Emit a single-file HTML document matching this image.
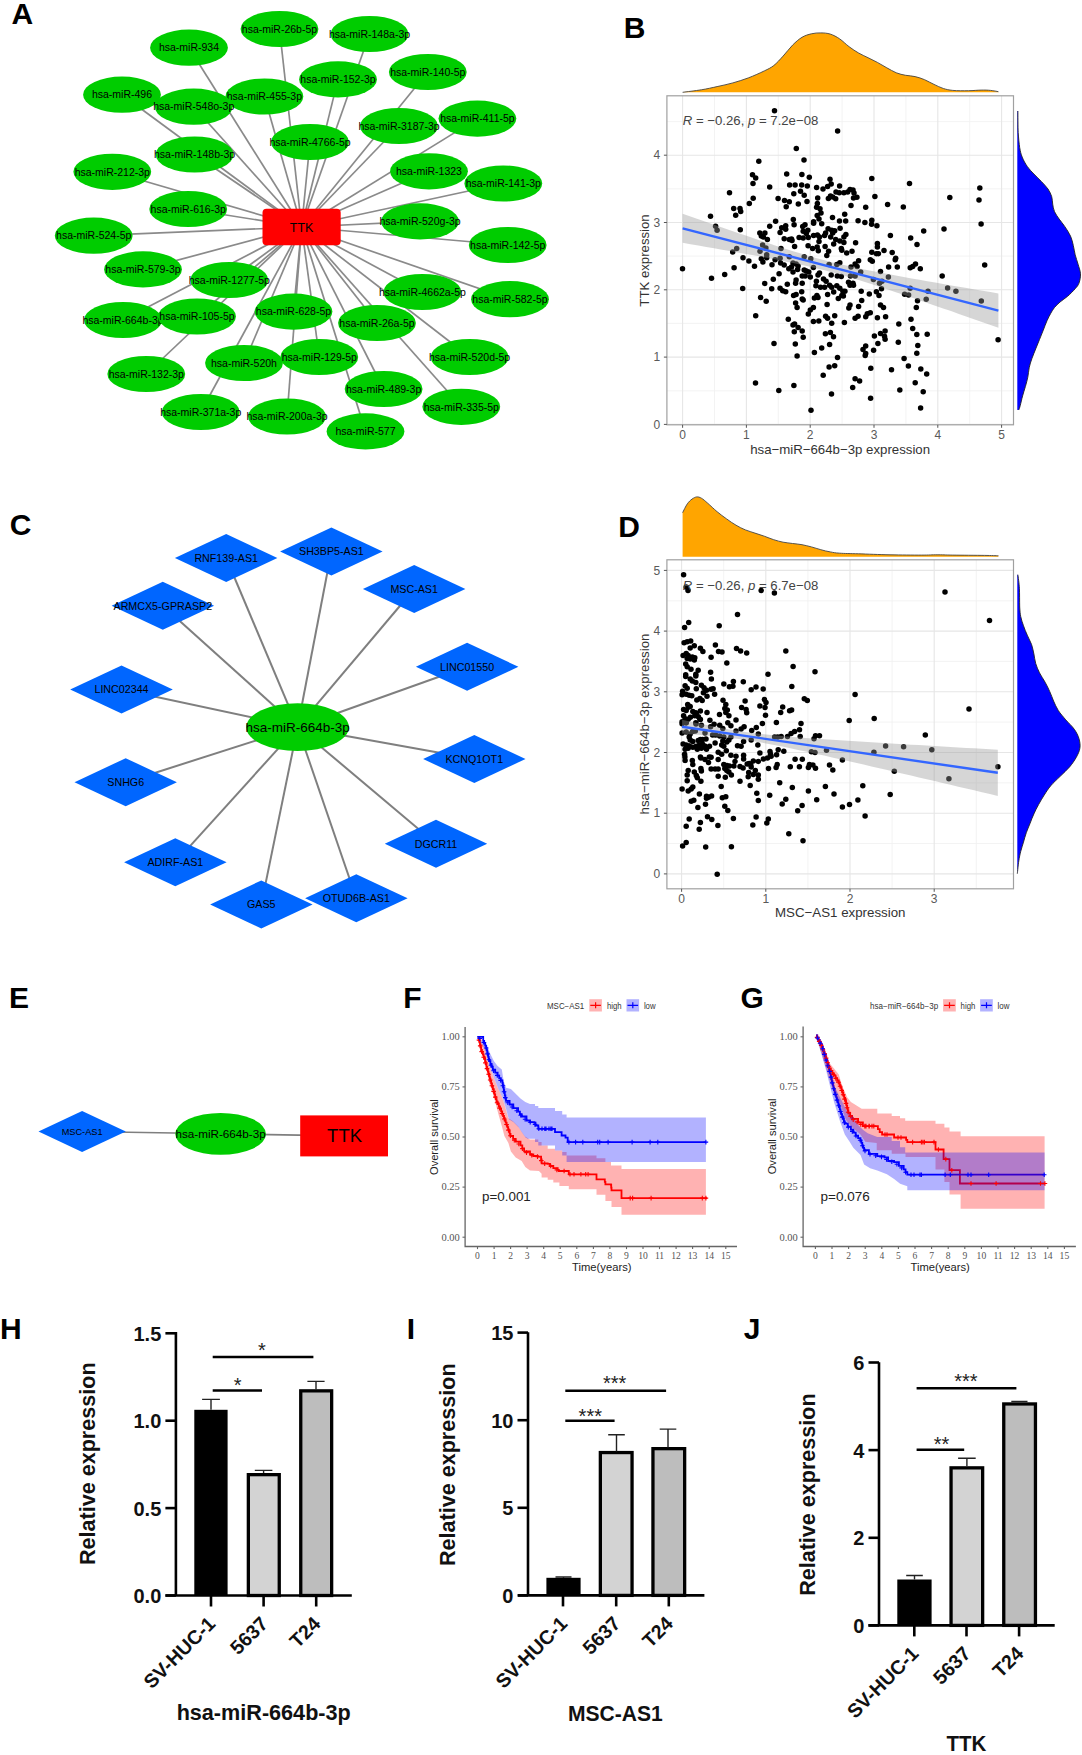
<!DOCTYPE html>
<html><head><meta charset="utf-8"><title>Figure</title>
<style>html,body{margin:0;padding:0;background:#fff;overflow:hidden;}svg{display:block;}svg{font-family:"Liberation Sans",sans-serif;}</style>
</head><body>
<svg width="1082" height="1755" viewBox="0 0 1082 1755">
<rect width="1082" height="1755" fill="#fff"/>
<text x="11.5" y="24.0" font-size="30" text-anchor="start" fill="#000" font-weight="bold" >A</text>
<text x="623.8" y="37.7" font-size="30" text-anchor="start" fill="#000" font-weight="bold" >B</text>
<text x="9.7" y="534.7" font-size="30" text-anchor="start" fill="#000" font-weight="bold" >C</text>
<text x="618.2" y="536.9" font-size="30" text-anchor="start" fill="#000" font-weight="bold" >D</text>
<text x="8.9" y="1008.0" font-size="30" text-anchor="start" fill="#000" font-weight="bold" >E</text>
<text x="403.2" y="1008.0" font-size="30" text-anchor="start" fill="#000" font-weight="bold" >F</text>
<text x="740.5" y="1007.7" font-size="30" text-anchor="start" fill="#000" font-weight="bold" >G</text>
<text x="-0.1" y="1338.7" font-size="30" text-anchor="start" fill="#000" font-weight="bold" >H</text>
<text x="406.7" y="1338.7" font-size="30" text-anchor="start" fill="#000" font-weight="bold" >I</text>
<text x="743.7" y="1338.7" font-size="30" text-anchor="start" fill="#000" font-weight="bold" >J</text>
<g stroke="#8a8a8a" stroke-width="1.7">
<line x1="301.6" y1="227.0" x2="189" y2="47.7"/>
<line x1="301.6" y1="227.0" x2="279.5" y2="29"/>
<line x1="301.6" y1="227.0" x2="369.5" y2="34"/>
<line x1="301.6" y1="227.0" x2="338" y2="79.4"/>
<line x1="301.6" y1="227.0" x2="427.8" y2="72"/>
<line x1="301.6" y1="227.0" x2="122" y2="94.7"/>
<line x1="301.6" y1="227.0" x2="264.4" y2="96.5"/>
<line x1="301.6" y1="227.0" x2="193.7" y2="106.7"/>
<line x1="301.6" y1="227.0" x2="310" y2="142"/>
<line x1="301.6" y1="227.0" x2="399" y2="126"/>
<line x1="301.6" y1="227.0" x2="477.4" y2="118.6"/>
<line x1="301.6" y1="227.0" x2="194.6" y2="154.5"/>
<line x1="301.6" y1="227.0" x2="112.3" y2="171.8"/>
<line x1="301.6" y1="227.0" x2="429" y2="171.3"/>
<line x1="301.6" y1="227.0" x2="503.3" y2="183.5"/>
<line x1="301.6" y1="227.0" x2="188.2" y2="209"/>
<line x1="301.6" y1="227.0" x2="420" y2="221.4"/>
<line x1="301.6" y1="227.0" x2="93.7" y2="235.7"/>
<line x1="301.6" y1="227.0" x2="507.7" y2="245"/>
<line x1="301.6" y1="227.0" x2="143" y2="269.4"/>
<line x1="301.6" y1="227.0" x2="229.3" y2="280"/>
<line x1="301.6" y1="227.0" x2="422.4" y2="292"/>
<line x1="301.6" y1="227.0" x2="510" y2="299.2"/>
<line x1="301.6" y1="227.0" x2="123" y2="320"/>
<line x1="301.6" y1="227.0" x2="197" y2="316.5"/>
<line x1="301.6" y1="227.0" x2="293.5" y2="311.6"/>
<line x1="301.6" y1="227.0" x2="377" y2="323"/>
<line x1="301.6" y1="227.0" x2="146.3" y2="374"/>
<line x1="301.6" y1="227.0" x2="244" y2="363"/>
<line x1="301.6" y1="227.0" x2="319.3" y2="357"/>
<line x1="301.6" y1="227.0" x2="469.6" y2="357"/>
<line x1="301.6" y1="227.0" x2="383.6" y2="389"/>
<line x1="301.6" y1="227.0" x2="200.7" y2="412"/>
<line x1="301.6" y1="227.0" x2="287" y2="416.5"/>
<line x1="301.6" y1="227.0" x2="461.3" y2="406.8"/>
<line x1="301.6" y1="227.0" x2="365.5" y2="431.4"/>
</g>
<rect x="262.5" y="208.8" width="78.2" height="36.4" rx="4" fill="#ff0000"/>
<text x="301.6" y="231.5" font-size="12.5" text-anchor="middle" fill="#000" >TTK</text>
<ellipse cx="189" cy="47.7" rx="38.9" ry="18.1" fill="#00cc00"/>
<text x="189.0" y="51.4" font-size="10.5" text-anchor="middle" fill="#000" >hsa-miR-934</text>
<ellipse cx="279.5" cy="29" rx="38.9" ry="18.1" fill="#00cc00"/>
<text x="279.5" y="32.7" font-size="10.5" text-anchor="middle" fill="#000" >hsa-miR-26b-5p</text>
<ellipse cx="369.5" cy="34" rx="38.9" ry="18.1" fill="#00cc00"/>
<text x="369.5" y="37.7" font-size="10.5" text-anchor="middle" fill="#000" >hsa-miR-148a-3p</text>
<ellipse cx="338" cy="79.4" rx="38.9" ry="18.1" fill="#00cc00"/>
<text x="338.0" y="83.1" font-size="10.5" text-anchor="middle" fill="#000" >hsa-miR-152-3p</text>
<ellipse cx="427.8" cy="72" rx="38.9" ry="18.1" fill="#00cc00"/>
<text x="427.8" y="75.7" font-size="10.5" text-anchor="middle" fill="#000" >hsa-miR-140-5p</text>
<ellipse cx="122" cy="94.7" rx="38.9" ry="18.1" fill="#00cc00"/>
<text x="122.0" y="98.4" font-size="10.5" text-anchor="middle" fill="#000" >hsa-miR-496</text>
<ellipse cx="264.4" cy="96.5" rx="38.9" ry="18.1" fill="#00cc00"/>
<text x="264.4" y="100.2" font-size="10.5" text-anchor="middle" fill="#000" >hsa-miR-455-3p</text>
<ellipse cx="193.7" cy="106.7" rx="38.9" ry="18.1" fill="#00cc00"/>
<text x="193.7" y="110.4" font-size="10.5" text-anchor="middle" fill="#000" >hsa-miR-548o-3p</text>
<ellipse cx="310" cy="142" rx="38.9" ry="18.1" fill="#00cc00"/>
<text x="310.0" y="145.7" font-size="10.5" text-anchor="middle" fill="#000" >hsa-miR-4766-5p</text>
<ellipse cx="399" cy="126" rx="38.9" ry="18.1" fill="#00cc00"/>
<text x="399.0" y="129.7" font-size="10.5" text-anchor="middle" fill="#000" >hsa-miR-3187-3p</text>
<ellipse cx="477.4" cy="118.6" rx="38.9" ry="18.1" fill="#00cc00"/>
<text x="477.4" y="122.3" font-size="10.5" text-anchor="middle" fill="#000" >hsa-miR-411-5p</text>
<ellipse cx="194.6" cy="154.5" rx="38.9" ry="18.1" fill="#00cc00"/>
<text x="194.6" y="158.2" font-size="10.5" text-anchor="middle" fill="#000" >hsa-miR-148b-3p</text>
<ellipse cx="112.3" cy="171.8" rx="38.9" ry="18.1" fill="#00cc00"/>
<text x="112.3" y="175.5" font-size="10.5" text-anchor="middle" fill="#000" >hsa-miR-212-3p</text>
<ellipse cx="429" cy="171.3" rx="38.9" ry="18.1" fill="#00cc00"/>
<text x="429.0" y="175.0" font-size="10.5" text-anchor="middle" fill="#000" >hsa-miR-1323</text>
<ellipse cx="503.3" cy="183.5" rx="38.9" ry="18.1" fill="#00cc00"/>
<text x="503.3" y="187.2" font-size="10.5" text-anchor="middle" fill="#000" >hsa-miR-141-3p</text>
<ellipse cx="188.2" cy="209" rx="38.9" ry="18.1" fill="#00cc00"/>
<text x="188.2" y="212.7" font-size="10.5" text-anchor="middle" fill="#000" >hsa-miR-616-3p</text>
<ellipse cx="420" cy="221.4" rx="38.9" ry="18.1" fill="#00cc00"/>
<text x="420.0" y="225.1" font-size="10.5" text-anchor="middle" fill="#000" >hsa-miR-520g-3p</text>
<ellipse cx="93.7" cy="235.7" rx="38.9" ry="18.1" fill="#00cc00"/>
<text x="93.7" y="239.4" font-size="10.5" text-anchor="middle" fill="#000" >hsa-miR-524-5p</text>
<ellipse cx="507.7" cy="245" rx="38.9" ry="18.1" fill="#00cc00"/>
<text x="507.7" y="248.7" font-size="10.5" text-anchor="middle" fill="#000" >hsa-miR-142-5p</text>
<ellipse cx="143" cy="269.4" rx="38.9" ry="18.1" fill="#00cc00"/>
<text x="143.0" y="273.1" font-size="10.5" text-anchor="middle" fill="#000" >hsa-miR-579-3p</text>
<ellipse cx="229.3" cy="280" rx="38.9" ry="18.1" fill="#00cc00"/>
<text x="229.3" y="283.7" font-size="10.5" text-anchor="middle" fill="#000" >hsa-miR-1277-5p</text>
<ellipse cx="422.4" cy="292" rx="38.9" ry="18.1" fill="#00cc00"/>
<text x="422.4" y="295.7" font-size="10.5" text-anchor="middle" fill="#000" >hsa-miR-4662a-5p</text>
<ellipse cx="510" cy="299.2" rx="38.9" ry="18.1" fill="#00cc00"/>
<text x="510.0" y="302.9" font-size="10.5" text-anchor="middle" fill="#000" >hsa-miR-582-5p</text>
<ellipse cx="123" cy="320" rx="38.9" ry="18.1" fill="#00cc00"/>
<text x="123.0" y="323.7" font-size="10.5" text-anchor="middle" fill="#000" >hsa-miR-664b-3p</text>
<ellipse cx="197" cy="316.5" rx="38.9" ry="18.1" fill="#00cc00"/>
<text x="197.0" y="320.2" font-size="10.5" text-anchor="middle" fill="#000" >hsa-miR-105-5p</text>
<ellipse cx="293.5" cy="311.6" rx="38.9" ry="18.1" fill="#00cc00"/>
<text x="293.5" y="315.3" font-size="10.5" text-anchor="middle" fill="#000" >hsa-miR-628-5p</text>
<ellipse cx="377" cy="323" rx="38.9" ry="18.1" fill="#00cc00"/>
<text x="377.0" y="326.7" font-size="10.5" text-anchor="middle" fill="#000" >hsa-miR-26a-5p</text>
<ellipse cx="146.3" cy="374" rx="38.9" ry="18.1" fill="#00cc00"/>
<text x="146.3" y="377.7" font-size="10.5" text-anchor="middle" fill="#000" >hsa-miR-132-3p</text>
<ellipse cx="244" cy="363" rx="38.9" ry="18.1" fill="#00cc00"/>
<text x="244.0" y="366.7" font-size="10.5" text-anchor="middle" fill="#000" >hsa-miR-520h</text>
<ellipse cx="319.3" cy="357" rx="38.9" ry="18.1" fill="#00cc00"/>
<text x="319.3" y="360.7" font-size="10.5" text-anchor="middle" fill="#000" >hsa-miR-129-5p</text>
<ellipse cx="469.6" cy="357" rx="38.9" ry="18.1" fill="#00cc00"/>
<text x="469.6" y="360.7" font-size="10.5" text-anchor="middle" fill="#000" >hsa-miR-520d-5p</text>
<ellipse cx="383.6" cy="389" rx="38.9" ry="18.1" fill="#00cc00"/>
<text x="383.6" y="392.7" font-size="10.5" text-anchor="middle" fill="#000" >hsa-miR-489-3p</text>
<ellipse cx="200.7" cy="412" rx="38.9" ry="18.1" fill="#00cc00"/>
<text x="200.7" y="415.7" font-size="10.5" text-anchor="middle" fill="#000" >hsa-miR-371a-3p</text>
<ellipse cx="287" cy="416.5" rx="38.9" ry="18.1" fill="#00cc00"/>
<text x="287.0" y="420.2" font-size="10.5" text-anchor="middle" fill="#000" >hsa-miR-200a-3p</text>
<ellipse cx="461.3" cy="406.8" rx="38.9" ry="18.1" fill="#00cc00"/>
<text x="461.3" y="410.5" font-size="10.5" text-anchor="middle" fill="#000" >hsa-miR-335-5p</text>
<ellipse cx="365.5" cy="431.4" rx="38.9" ry="18.1" fill="#00cc00"/>
<text x="365.5" y="435.1" font-size="10.5" text-anchor="middle" fill="#000" >hsa-miR-577</text>
<g stroke="#7f7f7f" stroke-width="2">
<line x1="297.6" y1="727.2" x2="226.2" y2="558"/>
<line x1="297.6" y1="727.2" x2="331.4" y2="551.5"/>
<line x1="297.6" y1="727.2" x2="414.2" y2="589"/>
<line x1="297.6" y1="727.2" x2="162.8" y2="605.7"/>
<line x1="297.6" y1="727.2" x2="467.1" y2="666.8"/>
<line x1="297.6" y1="727.2" x2="121.5" y2="689.4"/>
<line x1="297.6" y1="727.2" x2="474.3" y2="759"/>
<line x1="297.6" y1="727.2" x2="125.7" y2="782.2"/>
<line x1="297.6" y1="727.2" x2="436" y2="843.7"/>
<line x1="297.6" y1="727.2" x2="175.3" y2="862.3"/>
<line x1="297.6" y1="727.2" x2="261.3" y2="904.4"/>
<line x1="297.6" y1="727.2" x2="356.3" y2="898.3"/>
</g>
<polygon points="174.9,558 226.2,534 277.4,558 226.2,582" fill="#0066ff"/>
<text x="226.2" y="561.8" font-size="10.7" text-anchor="middle" fill="#000" >RNF139-AS1</text>
<polygon points="280.1,551.5 331.4,527.5 382.6,551.5 331.4,575.5" fill="#0066ff"/>
<text x="331.4" y="555.3" font-size="10.7" text-anchor="middle" fill="#000" >SH3BP5-AS1</text>
<polygon points="362.9,589 414.2,565 465.4,589 414.2,613" fill="#0066ff"/>
<text x="414.2" y="592.8" font-size="10.7" text-anchor="middle" fill="#000" >MSC-AS1</text>
<polygon points="111.6,605.7 162.8,581.7 214.1,605.7 162.8,629.7" fill="#0066ff"/>
<text x="162.8" y="609.5" font-size="10.7" text-anchor="middle" fill="#000" >ARMCX5-GPRASP2</text>
<polygon points="415.9,666.8 467.1,642.8 518.4,666.8 467.1,690.8" fill="#0066ff"/>
<text x="467.1" y="670.6" font-size="10.7" text-anchor="middle" fill="#000" >LINC01550</text>
<polygon points="70.2,689.4 121.5,665.4 172.8,689.4 121.5,713.4" fill="#0066ff"/>
<text x="121.5" y="693.2" font-size="10.7" text-anchor="middle" fill="#000" >LINC02344</text>
<polygon points="423.1,759 474.3,735 525.5,759 474.3,783" fill="#0066ff"/>
<text x="474.3" y="762.8" font-size="10.7" text-anchor="middle" fill="#000" >KCNQ1OT1</text>
<polygon points="74.5,782.2 125.7,758.2 176.9,782.2 125.7,806.2" fill="#0066ff"/>
<text x="125.7" y="786.0" font-size="10.7" text-anchor="middle" fill="#000" >SNHG6</text>
<polygon points="384.8,843.7 436,819.7 487.2,843.7 436,867.7" fill="#0066ff"/>
<text x="436.0" y="847.5" font-size="10.7" text-anchor="middle" fill="#000" >DGCR11</text>
<polygon points="124.1,862.3 175.3,838.3 226.6,862.3 175.3,886.3" fill="#0066ff"/>
<text x="175.3" y="866.1" font-size="10.7" text-anchor="middle" fill="#000" >ADIRF-AS1</text>
<polygon points="210.1,904.4 261.3,880.4 312.6,904.4 261.3,928.4" fill="#0066ff"/>
<text x="261.3" y="908.2" font-size="10.7" text-anchor="middle" fill="#000" >GAS5</text>
<polygon points="305.1,898.3 356.3,874.3 407.6,898.3 356.3,922.3" fill="#0066ff"/>
<text x="356.3" y="902.1" font-size="10.7" text-anchor="middle" fill="#000" >OTUD6B-AS1</text>
<ellipse cx="297.6" cy="727.2" rx="51.3" ry="23.9" fill="#00cc00"/>
<text x="297.6" y="731.8" font-size="13.5" text-anchor="middle" fill="#000" >hsa-miR-664b-3p</text>
<polyline points="82.1,1131.5 220.6,1133.8 344.1,1135.9" fill="none" stroke="#7f7f7f" stroke-width="1.6"/>
<polygon points="38.5,1131.5 82.1,1111 125.8,1131.5 82.1,1152" fill="#0066ff"/>
<text x="82.1" y="1134.6" font-size="9.2" text-anchor="middle" fill="#000" >MSC-AS1</text>
<ellipse cx="220.6" cy="1133.9" rx="45.3" ry="20.9" fill="#00cc00"/>
<text x="220.6" y="1137.9" font-size="11.7" text-anchor="middle" fill="#000" >hsa-miR-664b-3p</text>
<rect x="300.2" y="1115.4" width="87.8" height="41" fill="#ff0000"/>
<text x="344.6" y="1141.7" font-size="18.5" text-anchor="middle" fill="#000" >TTK</text>
<rect x="666.9" y="95.8" width="346.6" height="329.0" fill="#fff"/>
<line x1="714.5" y1="95.8" x2="714.5" y2="424.8" stroke="#f0f0f0" stroke-width="0.8"/><line x1="778.3" y1="95.8" x2="778.3" y2="424.8" stroke="#f0f0f0" stroke-width="0.8"/><line x1="842.1" y1="95.8" x2="842.1" y2="424.8" stroke="#f0f0f0" stroke-width="0.8"/><line x1="905.9" y1="95.8" x2="905.9" y2="424.8" stroke="#f0f0f0" stroke-width="0.8"/><line x1="969.7" y1="95.8" x2="969.7" y2="424.8" stroke="#f0f0f0" stroke-width="0.8"/><line x1="666.9" y1="390.8" x2="1013.5" y2="390.8" stroke="#f0f0f0" stroke-width="0.8"/><line x1="666.9" y1="323.4" x2="1013.5" y2="323.4" stroke="#f0f0f0" stroke-width="0.8"/><line x1="666.9" y1="256.1" x2="1013.5" y2="256.1" stroke="#f0f0f0" stroke-width="0.8"/><line x1="666.9" y1="188.8" x2="1013.5" y2="188.8" stroke="#f0f0f0" stroke-width="0.8"/><line x1="666.9" y1="121.6" x2="1013.5" y2="121.6" stroke="#f0f0f0" stroke-width="0.8"/><line x1="682.6" y1="95.8" x2="682.6" y2="424.8" stroke="#e6e6e6" stroke-width="1.1"/><line x1="746.4" y1="95.8" x2="746.4" y2="424.8" stroke="#e6e6e6" stroke-width="1.1"/><line x1="810.2" y1="95.8" x2="810.2" y2="424.8" stroke="#e6e6e6" stroke-width="1.1"/><line x1="874.0" y1="95.8" x2="874.0" y2="424.8" stroke="#e6e6e6" stroke-width="1.1"/><line x1="937.8" y1="95.8" x2="937.8" y2="424.8" stroke="#e6e6e6" stroke-width="1.1"/><line x1="1001.6" y1="95.8" x2="1001.6" y2="424.8" stroke="#e6e6e6" stroke-width="1.1"/><line x1="666.9" y1="424.4" x2="1013.5" y2="424.4" stroke="#e6e6e6" stroke-width="1.1"/><line x1="666.9" y1="357.1" x2="1013.5" y2="357.1" stroke="#e6e6e6" stroke-width="1.1"/><line x1="666.9" y1="289.8" x2="1013.5" y2="289.8" stroke="#e6e6e6" stroke-width="1.1"/><line x1="666.9" y1="222.5" x2="1013.5" y2="222.5" stroke="#e6e6e6" stroke-width="1.1"/><line x1="666.9" y1="155.2" x2="1013.5" y2="155.2" stroke="#e6e6e6" stroke-width="1.1"/>
<g fill="#000"><circle cx="774.5" cy="110.7" r="2.75"/><circle cx="758.8" cy="161.2" r="2.75"/><circle cx="752.5" cy="174.7" r="2.75"/><circle cx="755.7" cy="178.1" r="2.75"/><circle cx="753.0" cy="183.6" r="2.75"/><circle cx="786.7" cy="173.9" r="2.75"/><circle cx="769.7" cy="186.9" r="2.75"/><circle cx="789.6" cy="184.9" r="2.75"/><circle cx="729.5" cy="192.8" r="2.75"/><circle cx="753.2" cy="198.3" r="2.75"/><circle cx="749.3" cy="203.5" r="2.75"/><circle cx="778.1" cy="198.6" r="2.75"/><circle cx="784.5" cy="200.6" r="2.75"/><circle cx="789.3" cy="201.7" r="2.75"/><circle cx="786.2" cy="206.7" r="2.75"/><circle cx="733.7" cy="208.6" r="2.75"/><circle cx="740.0" cy="208.6" r="2.75"/><circle cx="837.6" cy="131.0" r="2.75"/><circle cx="796.3" cy="148.5" r="2.75"/><circle cx="804.0" cy="160.0" r="2.75"/><circle cx="801.9" cy="174.4" r="2.75"/><circle cx="809.3" cy="177.3" r="2.75"/><circle cx="830.0" cy="179.3" r="2.75"/><circle cx="831.2" cy="183.9" r="2.75"/><circle cx="827.6" cy="186.6" r="2.75"/><circle cx="823.0" cy="189.0" r="2.75"/><circle cx="816.6" cy="187.6" r="2.75"/><circle cx="839.6" cy="186.1" r="2.75"/><circle cx="871.8" cy="178.5" r="2.75"/><circle cx="795.1" cy="184.9" r="2.75"/><circle cx="801.7" cy="184.9" r="2.75"/><circle cx="807.3" cy="186.1" r="2.75"/><circle cx="793.8" cy="193.7" r="2.75"/><circle cx="800.5" cy="191.2" r="2.75"/><circle cx="804.2" cy="195.3" r="2.75"/><circle cx="798.3" cy="203.9" r="2.75"/><circle cx="807.0" cy="201.4" r="2.75"/><circle cx="817.7" cy="197.9" r="2.75"/><circle cx="817.4" cy="203.5" r="2.75"/><circle cx="816.6" cy="207.3" r="2.75"/><circle cx="820.0" cy="208.8" r="2.75"/><circle cx="830.5" cy="196.1" r="2.75"/><circle cx="828.4" cy="198.6" r="2.75"/><circle cx="835.7" cy="198.8" r="2.75"/><circle cx="832.7" cy="197.1" r="2.75"/><circle cx="836.0" cy="192.0" r="2.75"/><circle cx="839.3" cy="192.7" r="2.75"/><circle cx="843.9" cy="192.7" r="2.75"/><circle cx="847.7" cy="192.0" r="2.75"/><circle cx="850.0" cy="189.5" r="2.75"/><circle cx="853.0" cy="190.0" r="2.75"/><circle cx="854.0" cy="193.0" r="2.75"/><circle cx="853.5" cy="198.1" r="2.75"/><circle cx="856.9" cy="197.3" r="2.75"/><circle cx="851.0" cy="205.5" r="2.75"/><circle cx="865.7" cy="207.3" r="2.75"/><circle cx="874.9" cy="196.4" r="2.75"/><circle cx="887.6" cy="204.4" r="2.75"/><circle cx="909.5" cy="183.4" r="2.75"/><circle cx="949.8" cy="197.6" r="2.75"/><circle cx="979.8" cy="187.9" r="2.75"/><circle cx="979.0" cy="200.1" r="2.75"/><circle cx="903.3" cy="207.0" r="2.75"/><circle cx="710.5" cy="216.3" r="2.75"/><circle cx="735.7" cy="215.3" r="2.75"/><circle cx="740.7" cy="211.5" r="2.75"/><circle cx="715.6" cy="226.3" r="2.75"/><circle cx="717.1" cy="230.3" r="2.75"/><circle cx="740.3" cy="229.8" r="2.75"/><circle cx="775.6" cy="221.2" r="2.75"/><circle cx="769.7" cy="226.3" r="2.75"/><circle cx="759.8" cy="232.9" r="2.75"/><circle cx="764.9" cy="232.9" r="2.75"/><circle cx="761.3" cy="235.9" r="2.75"/><circle cx="763.4" cy="236.9" r="2.75"/><circle cx="767.4" cy="239.5" r="2.75"/><circle cx="781.7" cy="227.8" r="2.75"/><circle cx="785.7" cy="225.8" r="2.75"/><circle cx="785.7" cy="229.3" r="2.75"/><circle cx="780.1" cy="232.4" r="2.75"/><circle cx="784.2" cy="238.8" r="2.75"/><circle cx="789.3" cy="239.5" r="2.75"/><circle cx="762.6" cy="245.1" r="2.75"/><circle cx="765.9" cy="248.1" r="2.75"/><circle cx="760.0" cy="251.2" r="2.75"/><circle cx="781.0" cy="248.6" r="2.75"/><circle cx="736.7" cy="248.6" r="2.75"/><circle cx="732.7" cy="252.0" r="2.75"/><circle cx="766.7" cy="254.7" r="2.75"/><circle cx="766.7" cy="257.8" r="2.75"/><circle cx="761.3" cy="258.8" r="2.75"/><circle cx="762.9" cy="262.1" r="2.75"/><circle cx="743.0" cy="257.8" r="2.75"/><circle cx="748.9" cy="261.0" r="2.75"/><circle cx="754.5" cy="266.2" r="2.75"/><circle cx="775.1" cy="259.8" r="2.75"/><circle cx="780.1" cy="258.3" r="2.75"/><circle cx="780.6" cy="262.9" r="2.75"/><circle cx="784.2" cy="264.9" r="2.75"/><circle cx="772.0" cy="264.7" r="2.75"/><circle cx="788.8" cy="268.8" r="2.75"/><circle cx="789.3" cy="256.8" r="2.75"/><circle cx="682.5" cy="268.8" r="2.75"/><circle cx="734.1" cy="267.7" r="2.75"/><circle cx="724.7" cy="274.6" r="2.75"/><circle cx="711.5" cy="278.3" r="2.75"/><circle cx="779.1" cy="273.8" r="2.75"/><circle cx="773.3" cy="279.3" r="2.75"/><circle cx="764.7" cy="283.4" r="2.75"/><circle cx="787.3" cy="284.2" r="2.75"/><circle cx="742.7" cy="288.5" r="2.75"/><circle cx="771.7" cy="288.8" r="2.75"/><circle cx="780.1" cy="288.3" r="2.75"/><circle cx="782.7" cy="290.8" r="2.75"/><circle cx="785.7" cy="291.8" r="2.75"/><circle cx="760.6" cy="297.6" r="2.75"/><circle cx="766.2" cy="301.2" r="2.75"/><circle cx="755.7" cy="315.7" r="2.75"/><circle cx="788.3" cy="319.3" r="2.75"/><circle cx="821.0" cy="213.0" r="2.75"/><circle cx="817.2" cy="215.6" r="2.75"/><circle cx="819.0" cy="219.1" r="2.75"/><circle cx="821.7" cy="223.7" r="2.75"/><circle cx="813.6" cy="221.7" r="2.75"/><circle cx="813.6" cy="223.2" r="2.75"/><circle cx="832.5" cy="217.4" r="2.75"/><circle cx="844.7" cy="214.3" r="2.75"/><circle cx="839.5" cy="221.0" r="2.75"/><circle cx="845.7" cy="221.0" r="2.75"/><circle cx="858.1" cy="220.7" r="2.75"/><circle cx="864.9" cy="222.4" r="2.75"/><circle cx="871.8" cy="220.2" r="2.75"/><circle cx="871.6" cy="224.2" r="2.75"/><circle cx="876.9" cy="225.8" r="2.75"/><circle cx="793.3" cy="219.4" r="2.75"/><circle cx="794.1" cy="224.7" r="2.75"/><circle cx="805.0" cy="224.7" r="2.75"/><circle cx="802.7" cy="226.5" r="2.75"/><circle cx="807.8" cy="230.3" r="2.75"/><circle cx="803.2" cy="231.3" r="2.75"/><circle cx="806.3" cy="233.4" r="2.75"/><circle cx="808.3" cy="237.4" r="2.75"/><circle cx="799.1" cy="237.4" r="2.75"/><circle cx="803.2" cy="238.0" r="2.75"/><circle cx="791.5" cy="239.0" r="2.75"/><circle cx="792.0" cy="240.5" r="2.75"/><circle cx="813.6" cy="235.4" r="2.75"/><circle cx="817.4" cy="234.9" r="2.75"/><circle cx="819.5" cy="236.9" r="2.75"/><circle cx="819.0" cy="241.5" r="2.75"/><circle cx="828.1" cy="228.8" r="2.75"/><circle cx="831.7" cy="230.3" r="2.75"/><circle cx="834.7" cy="230.8" r="2.75"/><circle cx="825.6" cy="232.9" r="2.75"/><circle cx="824.6" cy="235.4" r="2.75"/><circle cx="830.7" cy="236.9" r="2.75"/><circle cx="832.7" cy="232.9" r="2.75"/><circle cx="840.1" cy="228.3" r="2.75"/><circle cx="845.9" cy="234.4" r="2.75"/><circle cx="843.9" cy="236.9" r="2.75"/><circle cx="835.7" cy="239.5" r="2.75"/><circle cx="839.8" cy="241.0" r="2.75"/><circle cx="843.9" cy="242.5" r="2.75"/><circle cx="833.7" cy="244.1" r="2.75"/><circle cx="855.6" cy="242.7" r="2.75"/><circle cx="890.4" cy="235.4" r="2.75"/><circle cx="794.6" cy="246.6" r="2.75"/><circle cx="808.1" cy="245.8" r="2.75"/><circle cx="812.6" cy="248.6" r="2.75"/><circle cx="817.2" cy="247.1" r="2.75"/><circle cx="818.3" cy="250.7" r="2.75"/><circle cx="825.1" cy="246.4" r="2.75"/><circle cx="828.6" cy="251.2" r="2.75"/><circle cx="826.8" cy="255.5" r="2.75"/><circle cx="841.3" cy="248.6" r="2.75"/><circle cx="841.8" cy="250.2" r="2.75"/><circle cx="846.7" cy="253.0" r="2.75"/><circle cx="852.0" cy="251.2" r="2.75"/><circle cx="877.4" cy="243.5" r="2.75"/><circle cx="877.4" cy="247.1" r="2.75"/><circle cx="871.8" cy="252.2" r="2.75"/><circle cx="876.4" cy="253.7" r="2.75"/><circle cx="878.4" cy="253.7" r="2.75"/><circle cx="884.0" cy="250.5" r="2.75"/><circle cx="892.2" cy="252.5" r="2.75"/><circle cx="895.7" cy="258.3" r="2.75"/><circle cx="895.2" cy="259.8" r="2.75"/><circle cx="870.3" cy="259.8" r="2.75"/><circle cx="872.3" cy="261.3" r="2.75"/><circle cx="858.6" cy="260.8" r="2.75"/><circle cx="855.1" cy="263.9" r="2.75"/><circle cx="851.0" cy="266.9" r="2.75"/><circle cx="857.1" cy="266.4" r="2.75"/><circle cx="839.8" cy="262.7" r="2.75"/><circle cx="836.8" cy="264.4" r="2.75"/><circle cx="829.1" cy="264.4" r="2.75"/><circle cx="804.2" cy="256.8" r="2.75"/><circle cx="810.8" cy="258.8" r="2.75"/><circle cx="813.4" cy="267.4" r="2.75"/><circle cx="793.0" cy="262.9" r="2.75"/><circle cx="796.1" cy="263.9" r="2.75"/><circle cx="798.1" cy="265.9" r="2.75"/><circle cx="791.5" cy="266.9" r="2.75"/><circle cx="797.6" cy="269.5" r="2.75"/><circle cx="793.0" cy="272.0" r="2.75"/><circle cx="804.2" cy="270.0" r="2.75"/><circle cx="806.3" cy="271.0" r="2.75"/><circle cx="808.8" cy="272.0" r="2.75"/><circle cx="802.2" cy="276.1" r="2.75"/><circle cx="805.2" cy="276.1" r="2.75"/><circle cx="810.3" cy="277.1" r="2.75"/><circle cx="819.5" cy="273.0" r="2.75"/><circle cx="818.0" cy="275.1" r="2.75"/><circle cx="831.2" cy="275.1" r="2.75"/><circle cx="837.3" cy="276.1" r="2.75"/><circle cx="841.3" cy="276.6" r="2.75"/><circle cx="850.5" cy="276.1" r="2.75"/><circle cx="855.1" cy="276.1" r="2.75"/><circle cx="860.7" cy="272.0" r="2.75"/><circle cx="880.5" cy="271.5" r="2.75"/><circle cx="888.6" cy="267.1" r="2.75"/><circle cx="897.3" cy="266.9" r="2.75"/><circle cx="888.4" cy="277.1" r="2.75"/><circle cx="873.4" cy="279.6" r="2.75"/><circle cx="879.5" cy="283.2" r="2.75"/><circle cx="882.0" cy="281.2" r="2.75"/><circle cx="796.1" cy="280.1" r="2.75"/><circle cx="795.6" cy="283.2" r="2.75"/><circle cx="802.2" cy="283.2" r="2.75"/><circle cx="816.4" cy="281.2" r="2.75"/><circle cx="815.9" cy="285.7" r="2.75"/><circle cx="823.5" cy="279.1" r="2.75"/><circle cx="826.1" cy="281.2" r="2.75"/><circle cx="820.5" cy="287.3" r="2.75"/><circle cx="824.6" cy="287.3" r="2.75"/><circle cx="829.6" cy="285.2" r="2.75"/><circle cx="831.7" cy="287.3" r="2.75"/><circle cx="836.8" cy="285.7" r="2.75"/><circle cx="839.8" cy="288.3" r="2.75"/><circle cx="842.9" cy="291.3" r="2.75"/><circle cx="844.9" cy="291.3" r="2.75"/><circle cx="841.8" cy="295.4" r="2.75"/><circle cx="848.5" cy="282.2" r="2.75"/><circle cx="850.0" cy="285.2" r="2.75"/><circle cx="853.5" cy="285.2" r="2.75"/><circle cx="853.0" cy="283.2" r="2.75"/><circle cx="861.2" cy="291.3" r="2.75"/><circle cx="869.3" cy="293.9" r="2.75"/><circle cx="876.4" cy="291.8" r="2.75"/><circle cx="879.0" cy="295.4" r="2.75"/><circle cx="881.5" cy="288.8" r="2.75"/><circle cx="801.7" cy="291.8" r="2.75"/><circle cx="793.6" cy="295.4" r="2.75"/><circle cx="796.1" cy="294.4" r="2.75"/><circle cx="802.2" cy="299.0" r="2.75"/><circle cx="803.2" cy="300.0" r="2.75"/><circle cx="816.9" cy="295.4" r="2.75"/><circle cx="814.4" cy="297.9" r="2.75"/><circle cx="818.0" cy="297.4" r="2.75"/><circle cx="827.6" cy="294.6" r="2.75"/><circle cx="833.7" cy="292.1" r="2.75"/><circle cx="838.3" cy="298.4" r="2.75"/><circle cx="843.4" cy="295.9" r="2.75"/><circle cx="795.6" cy="303.0" r="2.75"/><circle cx="797.1" cy="307.6" r="2.75"/><circle cx="827.1" cy="304.5" r="2.75"/><circle cx="850.0" cy="305.1" r="2.75"/><circle cx="848.8" cy="308.1" r="2.75"/><circle cx="858.6" cy="306.6" r="2.75"/><circle cx="861.7" cy="300.5" r="2.75"/><circle cx="880.5" cy="305.1" r="2.75"/><circle cx="883.5" cy="307.6" r="2.75"/><circle cx="813.4" cy="307.4" r="2.75"/><circle cx="810.3" cy="310.1" r="2.75"/><circle cx="808.3" cy="313.9" r="2.75"/><circle cx="825.6" cy="316.2" r="2.75"/><circle cx="827.6" cy="318.3" r="2.75"/><circle cx="834.7" cy="315.7" r="2.75"/><circle cx="858.1" cy="316.2" r="2.75"/><circle cx="855.1" cy="318.3" r="2.75"/><circle cx="867.3" cy="313.7" r="2.75"/><circle cx="870.3" cy="312.7" r="2.75"/><circle cx="865.7" cy="316.7" r="2.75"/><circle cx="877.4" cy="317.8" r="2.75"/><circle cx="885.6" cy="316.7" r="2.75"/><circle cx="981.1" cy="224.0" r="2.75"/><circle cx="944.0" cy="229.1" r="2.75"/><circle cx="923.7" cy="231.0" r="2.75"/><circle cx="910.7" cy="238.0" r="2.75"/><circle cx="917.0" cy="244.4" r="2.75"/><circle cx="915.5" cy="263.9" r="2.75"/><circle cx="910.2" cy="267.7" r="2.75"/><circle cx="912.7" cy="266.4" r="2.75"/><circle cx="920.3" cy="268.8" r="2.75"/><circle cx="984.7" cy="264.9" r="2.75"/><circle cx="942.2" cy="276.1" r="2.75"/><circle cx="910.2" cy="288.3" r="2.75"/><circle cx="904.6" cy="294.2" r="2.75"/><circle cx="908.6" cy="294.9" r="2.75"/><circle cx="928.0" cy="291.3" r="2.75"/><circle cx="926.2" cy="299.3" r="2.75"/><circle cx="947.6" cy="288.1" r="2.75"/><circle cx="955.9" cy="291.3" r="2.75"/><circle cx="981.3" cy="301.0" r="2.75"/><circle cx="917.5" cy="300.7" r="2.75"/><circle cx="916.3" cy="307.6" r="2.75"/><circle cx="911.0" cy="319.3" r="2.75"/><circle cx="774.0" cy="343.4" r="2.75"/><circle cx="755.5" cy="383.0" r="2.75"/><circle cx="778.8" cy="390.4" r="2.75"/><circle cx="813.4" cy="321.5" r="2.75"/><circle cx="818.8" cy="321.0" r="2.75"/><circle cx="831.7" cy="323.3" r="2.75"/><circle cx="844.4" cy="322.5" r="2.75"/><circle cx="898.8" cy="323.9" r="2.75"/><circle cx="794.6" cy="324.1" r="2.75"/><circle cx="793.0" cy="325.1" r="2.75"/><circle cx="798.1" cy="327.6" r="2.75"/><circle cx="802.2" cy="331.0" r="2.75"/><circle cx="794.3" cy="331.7" r="2.75"/><circle cx="803.2" cy="337.3" r="2.75"/><circle cx="795.3" cy="344.1" r="2.75"/><circle cx="797.1" cy="356.1" r="2.75"/><circle cx="825.4" cy="333.7" r="2.75"/><circle cx="830.4" cy="332.4" r="2.75"/><circle cx="833.5" cy="336.8" r="2.75"/><circle cx="829.6" cy="344.4" r="2.75"/><circle cx="821.7" cy="348.0" r="2.75"/><circle cx="814.4" cy="352.5" r="2.75"/><circle cx="837.5" cy="357.4" r="2.75"/><circle cx="829.1" cy="367.1" r="2.75"/><circle cx="834.7" cy="365.7" r="2.75"/><circle cx="823.2" cy="375.2" r="2.75"/><circle cx="793.9" cy="385.6" r="2.75"/><circle cx="831.5" cy="393.9" r="2.75"/><circle cx="811.0" cy="410.3" r="2.75"/><circle cx="874.4" cy="336.1" r="2.75"/><circle cx="880.5" cy="333.5" r="2.75"/><circle cx="885.1" cy="331.0" r="2.75"/><circle cx="884.5" cy="336.3" r="2.75"/><circle cx="885.1" cy="339.3" r="2.75"/><circle cx="877.9" cy="343.4" r="2.75"/><circle cx="898.3" cy="342.2" r="2.75"/><circle cx="865.7" cy="346.1" r="2.75"/><circle cx="863.0" cy="349.5" r="2.75"/><circle cx="865.7" cy="353.5" r="2.75"/><circle cx="865.2" cy="355.6" r="2.75"/><circle cx="873.6" cy="350.2" r="2.75"/><circle cx="870.8" cy="368.3" r="2.75"/><circle cx="891.5" cy="369.8" r="2.75"/><circle cx="855.1" cy="378.8" r="2.75"/><circle cx="859.6" cy="381.0" r="2.75"/><circle cx="852.7" cy="387.4" r="2.75"/><circle cx="870.6" cy="398.3" r="2.75"/><circle cx="899.8" cy="389.9" r="2.75"/><circle cx="912.7" cy="328.6" r="2.75"/><circle cx="916.8" cy="334.4" r="2.75"/><circle cx="927.2" cy="334.2" r="2.75"/><circle cx="917.8" cy="345.6" r="2.75"/><circle cx="916.8" cy="353.2" r="2.75"/><circle cx="904.1" cy="358.4" r="2.75"/><circle cx="908.4" cy="366.1" r="2.75"/><circle cx="920.8" cy="369.0" r="2.75"/><circle cx="926.7" cy="373.9" r="2.75"/><circle cx="915.2" cy="382.8" r="2.75"/><circle cx="923.2" cy="391.7" r="2.75"/><circle cx="920.6" cy="408.1" r="2.75"/><circle cx="998.1" cy="339.8" r="2.75"/></g>
<path d="M682.6,213.8 L690.5,216.5 L698.4,219.3 L706.3,222.0 L714.2,224.8 L722.1,227.5 L730.0,230.2 L737.9,233.0 L745.8,235.6 L753.7,238.3 L761.5,241.0 L769.4,243.6 L777.3,246.2 L785.2,248.7 L793.1,251.2 L801.0,253.6 L808.9,256.0 L816.8,258.2 L824.7,260.3 L832.6,262.4 L840.5,264.3 L848.4,266.1 L856.3,267.8 L864.2,269.4 L872.1,271.0 L880.0,272.6 L887.9,274.1 L895.8,275.6 L903.7,277.0 L911.6,278.4 L919.5,279.8 L927.3,281.2 L935.2,282.6 L943.1,284.0 L951.0,285.4 L958.9,286.7 L966.8,288.1 L974.7,289.4 L982.6,290.8 L990.5,292.1 L998.4,293.5 L998.4,327.7 L990.5,325.0 L982.6,322.2 L974.7,319.4 L966.8,316.7 L958.9,313.9 L951.0,311.1 L943.1,308.4 L935.2,305.7 L927.3,302.9 L919.5,300.2 L911.6,297.5 L903.7,294.8 L895.8,292.2 L887.9,289.5 L880.0,286.9 L872.1,284.3 L864.2,281.8 L856.3,279.3 L848.4,276.9 L840.5,274.6 L832.6,272.4 L824.7,270.3 L816.8,268.4 L808.9,266.5 L801.0,264.7 L793.1,263.0 L785.2,261.4 L777.3,259.8 L769.4,258.3 L761.5,256.8 L753.7,255.3 L745.8,253.9 L737.9,252.5 L730.0,251.0 L722.1,249.7 L714.2,248.3 L706.3,246.9 L698.4,245.5 L690.5,244.2 L682.6,242.8 Z" fill="#999999" fill-opacity="0.4"/>
<line x1="682.6" y1="228.3" x2="998.4" y2="310.6" stroke="#3366ff" stroke-width="2.4"/>
<text x="682.8" y="124.7" font-size="13.2" fill="#444" textLength="135.5" lengthAdjust="spacingAndGlyphs"><tspan font-style="italic">R</tspan> = −0.26, <tspan font-style="italic">p</tspan> = 7.2e−08</text>
<rect x="666.9" y="95.8" width="346.6" height="329.0" fill="none" stroke="#a0a0a0" stroke-width="1.2"/>
<line x1="682.6" y1="424.8" x2="682.6" y2="427.8" stroke="#555" stroke-width="1"/>
<text x="682.6" y="438.8" font-size="12" text-anchor="middle" fill="#595959" >0</text>
<line x1="746.4" y1="424.8" x2="746.4" y2="427.8" stroke="#555" stroke-width="1"/>
<text x="746.4" y="438.8" font-size="12" text-anchor="middle" fill="#595959" >1</text>
<line x1="810.2" y1="424.8" x2="810.2" y2="427.8" stroke="#555" stroke-width="1"/>
<text x="810.2" y="438.8" font-size="12" text-anchor="middle" fill="#595959" >2</text>
<line x1="874.0" y1="424.8" x2="874.0" y2="427.8" stroke="#555" stroke-width="1"/>
<text x="874.0" y="438.8" font-size="12" text-anchor="middle" fill="#595959" >3</text>
<line x1="937.8" y1="424.8" x2="937.8" y2="427.8" stroke="#555" stroke-width="1"/>
<text x="937.8" y="438.8" font-size="12" text-anchor="middle" fill="#595959" >4</text>
<line x1="1001.6" y1="424.8" x2="1001.6" y2="427.8" stroke="#555" stroke-width="1"/>
<text x="1001.6" y="438.8" font-size="12" text-anchor="middle" fill="#595959" >5</text>
<line x1="663.9" y1="424.4" x2="666.9" y2="424.4" stroke="#555" stroke-width="1"/>
<text x="660.3" y="428.5" font-size="12" text-anchor="end" fill="#595959" >0</text>
<line x1="663.9" y1="357.1" x2="666.9" y2="357.1" stroke="#555" stroke-width="1"/>
<text x="660.3" y="361.2" font-size="12" text-anchor="end" fill="#595959" >1</text>
<line x1="663.9" y1="289.8" x2="666.9" y2="289.8" stroke="#555" stroke-width="1"/>
<text x="660.3" y="293.9" font-size="12" text-anchor="end" fill="#595959" >2</text>
<line x1="663.9" y1="222.5" x2="666.9" y2="222.5" stroke="#555" stroke-width="1"/>
<text x="660.3" y="226.6" font-size="12" text-anchor="end" fill="#595959" >3</text>
<line x1="663.9" y1="155.2" x2="666.9" y2="155.2" stroke="#555" stroke-width="1"/>
<text x="660.3" y="159.3" font-size="12" text-anchor="end" fill="#595959" >4</text>
<text x="750.2" y="453.5" font-size="13" text-anchor="start" fill="#333" textLength="179.9" lengthAdjust="spacingAndGlyphs" >hsa−miR−664b−3p expression</text>
<text transform="translate(648.5,260.5) rotate(-90)" font-size="13" text-anchor="middle" fill="#333" textLength="92.3" lengthAdjust="spacingAndGlyphs">TTK expression</text>
<path d="M682.6,92.3 C685.7,91.9 695.7,90.7 701.4,89.8 C707.2,88.8 711.9,87.8 717.1,86.6 C722.4,85.5 727.6,84.3 732.9,82.9 C738.1,81.4 743.3,79.8 748.6,77.8 C753.8,75.8 760.1,73.0 764.3,70.9 C768.5,68.9 770.6,68.0 773.7,65.6 C776.9,63.1 780.0,59.5 783.1,56.1 C786.3,52.7 789.4,48.3 792.6,45.1 C795.7,42.0 798.8,39.2 802.0,37.3 C805.1,35.4 808.3,34.6 811.4,33.8 C814.6,33.1 817.7,32.8 820.8,32.9 C824.0,32.9 827.1,33.1 830.3,34.1 C833.4,35.1 836.6,36.8 839.7,38.9 C842.8,41.0 846.0,44.4 849.1,46.7 C852.3,49.1 855.4,51.2 858.6,53.0 C861.7,54.8 864.8,56.1 868.0,57.7 C871.1,59.3 874.3,60.8 877.4,62.4 C880.6,64.1 883.7,66.0 886.8,67.8 C890.0,69.5 893.1,71.5 896.3,72.8 C899.4,74.1 902.6,74.7 905.7,75.3 C908.8,75.9 912.0,75.8 915.1,76.6 C918.3,77.3 921.4,78.4 924.6,79.7 C927.7,81.0 930.8,83.0 934.0,84.4 C937.1,85.9 940.3,87.5 943.4,88.5 C946.6,89.5 948.7,90.0 952.8,90.4 C957.0,90.8 963.8,90.8 968.6,90.7 C973.3,90.7 977.5,90.1 981.1,90.1 C984.8,90.0 987.7,90.1 990.6,90.4 C993.4,90.7 997.1,91.4 998.4,91.7 L998.4,92.3 L682.6,92.3 Z" fill="#ffa500"/>
<path d="M682.6,92.3 C685.7,91.9 695.7,90.7 701.4,89.8 C707.2,88.8 711.9,87.8 717.1,86.6 C722.4,85.5 727.6,84.3 732.9,82.9 C738.1,81.4 743.3,79.8 748.6,77.8 C753.8,75.8 760.1,73.0 764.3,70.9 C768.5,68.9 770.6,68.0 773.7,65.6 C776.9,63.1 780.0,59.5 783.1,56.1 C786.3,52.7 789.4,48.3 792.6,45.1 C795.7,42.0 798.8,39.2 802.0,37.3 C805.1,35.4 808.3,34.6 811.4,33.8 C814.6,33.1 817.7,32.8 820.8,32.9 C824.0,32.9 827.1,33.1 830.3,34.1 C833.4,35.1 836.6,36.8 839.7,38.9 C842.8,41.0 846.0,44.4 849.1,46.7 C852.3,49.1 855.4,51.2 858.6,53.0 C861.7,54.8 864.8,56.1 868.0,57.7 C871.1,59.3 874.3,60.8 877.4,62.4 C880.6,64.1 883.7,66.0 886.8,67.8 C890.0,69.5 893.1,71.5 896.3,72.8 C899.4,74.1 902.6,74.7 905.7,75.3 C908.8,75.9 912.0,75.8 915.1,76.6 C918.3,77.3 921.4,78.4 924.6,79.7 C927.7,81.0 930.8,83.0 934.0,84.4 C937.1,85.9 940.3,87.5 943.4,88.5 C946.6,89.5 948.7,90.0 952.8,90.4 C957.0,90.8 963.8,90.8 968.6,90.7 C973.3,90.7 977.5,90.1 981.1,90.1 C984.8,90.0 987.7,90.1 990.6,90.4 C993.4,90.7 997.1,91.4 998.4,91.7" fill="none" stroke="#444" stroke-width="0.9"/>
<path d="M1017.9,111.0 C1017.9,114.6 1017.9,126.5 1018.2,132.6 C1018.6,138.7 1019.1,143.6 1019.7,147.7 C1020.4,151.7 1020.9,153.9 1022.2,157.1 C1023.4,160.2 1025.3,163.6 1027.3,166.5 C1029.2,169.3 1031.5,171.5 1033.9,174.0 C1036.2,176.5 1039.0,179.0 1041.4,181.5 C1043.7,184.0 1046.2,186.5 1048.0,189.0 C1049.7,191.5 1050.9,194.1 1051.7,196.6 C1052.5,199.1 1052.2,201.6 1052.7,204.1 C1053.1,206.6 1053.4,209.1 1054.5,211.6 C1055.6,214.1 1057.5,216.6 1059.2,219.1 C1061.0,221.6 1063.0,223.8 1064.9,226.7 C1066.8,229.5 1069.1,232.9 1070.5,236.1 C1071.9,239.2 1072.6,242.3 1073.3,245.5 C1074.1,248.6 1074.4,251.7 1075.2,254.9 C1076.0,258.0 1077.2,261.1 1078.1,264.3 C1078.9,267.4 1080.3,270.5 1080.5,273.7 C1080.7,276.8 1079.9,280.6 1079.0,283.1 C1078.1,285.6 1077.1,286.5 1075.2,288.7 C1073.3,290.9 1070.2,294.0 1067.7,296.2 C1065.2,298.4 1062.4,300.0 1060.2,301.9 C1058.0,303.8 1056.1,305.6 1054.5,307.5 C1053.0,309.4 1052.0,311.0 1050.8,313.2 C1049.5,315.4 1048.3,317.9 1047.0,320.7 C1045.8,323.5 1044.5,327.0 1043.3,330.1 C1042.0,333.2 1040.7,336.4 1039.5,339.5 C1038.2,342.6 1037.0,345.8 1035.7,348.9 C1034.5,352.0 1033.1,355.2 1032.0,358.3 C1030.9,361.4 1029.8,364.6 1029.2,367.7 C1028.5,370.8 1028.5,374.0 1027.8,377.1 C1027.2,380.2 1026.3,383.4 1025.4,386.5 C1024.5,389.7 1023.4,392.8 1022.6,395.9 C1021.7,399.1 1020.9,403.0 1020.3,405.3 C1019.7,407.7 1019.1,409.2 1018.8,410.0 L1017.3,410.0 L1017.3,111.0 Z" fill="#0000ff"/>
<path d="M1017.9,111.0 C1017.9,114.6 1017.9,126.5 1018.2,132.6 C1018.6,138.7 1019.1,143.6 1019.7,147.7 C1020.4,151.7 1020.9,153.9 1022.2,157.1 C1023.4,160.2 1025.3,163.6 1027.3,166.5 C1029.2,169.3 1031.5,171.5 1033.9,174.0 C1036.2,176.5 1039.0,179.0 1041.4,181.5 C1043.7,184.0 1046.2,186.5 1048.0,189.0 C1049.7,191.5 1050.9,194.1 1051.7,196.6 C1052.5,199.1 1052.2,201.6 1052.7,204.1 C1053.1,206.6 1053.4,209.1 1054.5,211.6 C1055.6,214.1 1057.5,216.6 1059.2,219.1 C1061.0,221.6 1063.0,223.8 1064.9,226.7 C1066.8,229.5 1069.1,232.9 1070.5,236.1 C1071.9,239.2 1072.6,242.3 1073.3,245.5 C1074.1,248.6 1074.4,251.7 1075.2,254.9 C1076.0,258.0 1077.2,261.1 1078.1,264.3 C1078.9,267.4 1080.3,270.5 1080.5,273.7 C1080.7,276.8 1079.9,280.6 1079.0,283.1 C1078.1,285.6 1077.1,286.5 1075.2,288.7 C1073.3,290.9 1070.2,294.0 1067.7,296.2 C1065.2,298.4 1062.4,300.0 1060.2,301.9 C1058.0,303.8 1056.1,305.6 1054.5,307.5 C1053.0,309.4 1052.0,311.0 1050.8,313.2 C1049.5,315.4 1048.3,317.9 1047.0,320.7 C1045.8,323.5 1044.5,327.0 1043.3,330.1 C1042.0,333.2 1040.7,336.4 1039.5,339.5 C1038.2,342.6 1037.0,345.8 1035.7,348.9 C1034.5,352.0 1033.1,355.2 1032.0,358.3 C1030.9,361.4 1029.8,364.6 1029.2,367.7 C1028.5,370.8 1028.5,374.0 1027.8,377.1 C1027.2,380.2 1026.3,383.4 1025.4,386.5 C1024.5,389.7 1023.4,392.8 1022.6,395.9 C1021.7,399.1 1020.9,403.0 1020.3,405.3 C1019.7,407.7 1019.1,409.2 1018.8,410.0" fill="none" stroke="#222" stroke-width="0.9"/>
<rect x="666.9" y="559.8" width="346.6" height="329.0" fill="#fff"/>
<line x1="723.7" y1="559.8" x2="723.7" y2="888.8" stroke="#f0f0f0" stroke-width="0.8"/><line x1="807.9" y1="559.8" x2="807.9" y2="888.8" stroke="#f0f0f0" stroke-width="0.8"/><line x1="892.1" y1="559.8" x2="892.1" y2="888.8" stroke="#f0f0f0" stroke-width="0.8"/><line x1="976.3" y1="559.8" x2="976.3" y2="888.8" stroke="#f0f0f0" stroke-width="0.8"/><line x1="666.9" y1="843.5" x2="1013.5" y2="843.5" stroke="#f0f0f0" stroke-width="0.8"/><line x1="666.9" y1="782.8" x2="1013.5" y2="782.8" stroke="#f0f0f0" stroke-width="0.8"/><line x1="666.9" y1="722.1" x2="1013.5" y2="722.1" stroke="#f0f0f0" stroke-width="0.8"/><line x1="666.9" y1="661.4" x2="1013.5" y2="661.4" stroke="#f0f0f0" stroke-width="0.8"/><line x1="666.9" y1="600.8" x2="1013.5" y2="600.8" stroke="#f0f0f0" stroke-width="0.8"/><line x1="681.6" y1="559.8" x2="681.6" y2="888.8" stroke="#e6e6e6" stroke-width="1.1"/><line x1="765.8" y1="559.8" x2="765.8" y2="888.8" stroke="#e6e6e6" stroke-width="1.1"/><line x1="850.0" y1="559.8" x2="850.0" y2="888.8" stroke="#e6e6e6" stroke-width="1.1"/><line x1="934.2" y1="559.8" x2="934.2" y2="888.8" stroke="#e6e6e6" stroke-width="1.1"/><line x1="666.9" y1="873.9" x2="1013.5" y2="873.9" stroke="#e6e6e6" stroke-width="1.1"/><line x1="666.9" y1="813.2" x2="1013.5" y2="813.2" stroke="#e6e6e6" stroke-width="1.1"/><line x1="666.9" y1="752.5" x2="1013.5" y2="752.5" stroke="#e6e6e6" stroke-width="1.1"/><line x1="666.9" y1="691.8" x2="1013.5" y2="691.8" stroke="#e6e6e6" stroke-width="1.1"/><line x1="666.9" y1="631.1" x2="1013.5" y2="631.1" stroke="#e6e6e6" stroke-width="1.1"/><line x1="666.9" y1="570.4" x2="1013.5" y2="570.4" stroke="#e6e6e6" stroke-width="1.1"/>
<g fill="#000"><circle cx="683.6" cy="574.7" r="2.75"/><circle cx="686.2" cy="586.9" r="2.75"/><circle cx="688.0" cy="590.4" r="2.75"/><circle cx="761.2" cy="590.6" r="2.75"/><circle cx="774.4" cy="593.0" r="2.75"/><circle cx="737.5" cy="614.5" r="2.75"/><circle cx="688.7" cy="622.4" r="2.75"/><circle cx="684.6" cy="627.5" r="2.75"/><circle cx="719.2" cy="625.7" r="2.75"/><circle cx="684.1" cy="642.8" r="2.75"/><circle cx="687.2" cy="641.8" r="2.75"/><circle cx="690.7" cy="641.0" r="2.75"/><circle cx="694.3" cy="645.8" r="2.75"/><circle cx="690.2" cy="647.9" r="2.75"/><circle cx="700.4" cy="648.2" r="2.75"/><circle cx="702.9" cy="651.6" r="2.75"/><circle cx="715.4" cy="645.0" r="2.75"/><circle cx="718.5" cy="651.6" r="2.75"/><circle cx="722.0" cy="651.9" r="2.75"/><circle cx="736.5" cy="648.4" r="2.75"/><circle cx="740.6" cy="650.9" r="2.75"/><circle cx="746.7" cy="652.9" r="2.75"/><circle cx="683.1" cy="655.5" r="2.75"/><circle cx="686.2" cy="653.4" r="2.75"/><circle cx="688.2" cy="655.5" r="2.75"/><circle cx="687.2" cy="658.5" r="2.75"/><circle cx="690.2" cy="659.0" r="2.75"/><circle cx="694.8" cy="657.7" r="2.75"/><circle cx="694.3" cy="660.1" r="2.75"/><circle cx="692.3" cy="657.0" r="2.75"/><circle cx="711.1" cy="657.3" r="2.75"/><circle cx="726.8" cy="662.9" r="2.75"/><circle cx="685.7" cy="664.1" r="2.75"/><circle cx="687.2" cy="666.7" r="2.75"/><circle cx="691.0" cy="669.2" r="2.75"/><circle cx="698.2" cy="670.2" r="2.75"/><circle cx="710.6" cy="672.3" r="2.75"/><circle cx="685.7" cy="674.8" r="2.75"/><circle cx="695.8" cy="674.3" r="2.75"/><circle cx="768.0" cy="674.3" r="2.75"/><circle cx="785.8" cy="650.9" r="2.75"/><circle cx="685.7" cy="676.5" r="2.75"/><circle cx="695.8" cy="676.0" r="2.75"/><circle cx="711.4" cy="678.9" r="2.75"/><circle cx="690.2" cy="679.1" r="2.75"/><circle cx="692.3" cy="681.1" r="2.75"/><circle cx="695.8" cy="682.6" r="2.75"/><circle cx="685.1" cy="685.7" r="2.75"/><circle cx="687.2" cy="688.2" r="2.75"/><circle cx="696.3" cy="688.7" r="2.75"/><circle cx="701.4" cy="685.2" r="2.75"/><circle cx="704.0" cy="687.7" r="2.75"/><circle cx="706.5" cy="690.2" r="2.75"/><circle cx="711.1" cy="689.2" r="2.75"/><circle cx="713.1" cy="688.7" r="2.75"/><circle cx="714.6" cy="694.3" r="2.75"/><circle cx="707.0" cy="696.3" r="2.75"/><circle cx="703.4" cy="692.8" r="2.75"/><circle cx="682.6" cy="691.3" r="2.75"/><circle cx="682.1" cy="694.8" r="2.75"/><circle cx="686.2" cy="694.3" r="2.75"/><circle cx="689.2" cy="695.3" r="2.75"/><circle cx="691.8" cy="695.8" r="2.75"/><circle cx="696.8" cy="699.9" r="2.75"/><circle cx="699.9" cy="698.4" r="2.75"/><circle cx="702.2" cy="700.4" r="2.75"/><circle cx="723.8" cy="683.9" r="2.75"/><circle cx="729.4" cy="686.7" r="2.75"/><circle cx="732.9" cy="686.2" r="2.75"/><circle cx="733.4" cy="681.6" r="2.75"/><circle cx="743.3" cy="681.8" r="2.75"/><circle cx="751.2" cy="689.7" r="2.75"/><circle cx="756.0" cy="687.0" r="2.75"/><circle cx="763.2" cy="689.0" r="2.75"/><circle cx="687.7" cy="704.5" r="2.75"/><circle cx="690.2" cy="706.5" r="2.75"/><circle cx="683.6" cy="709.6" r="2.75"/><circle cx="686.2" cy="710.6" r="2.75"/><circle cx="692.8" cy="711.6" r="2.75"/><circle cx="696.3" cy="713.1" r="2.75"/><circle cx="700.4" cy="711.1" r="2.75"/><circle cx="694.8" cy="715.7" r="2.75"/><circle cx="698.4" cy="716.7" r="2.75"/><circle cx="699.9" cy="719.2" r="2.75"/><circle cx="683.6" cy="715.7" r="2.75"/><circle cx="685.1" cy="718.7" r="2.75"/><circle cx="688.2" cy="719.2" r="2.75"/><circle cx="682.1" cy="721.8" r="2.75"/><circle cx="682.1" cy="723.8" r="2.75"/><circle cx="686.2" cy="722.8" r="2.75"/><circle cx="695.8" cy="722.8" r="2.75"/><circle cx="701.4" cy="725.3" r="2.75"/><circle cx="707.0" cy="712.4" r="2.75"/><circle cx="719.5" cy="714.6" r="2.75"/><circle cx="723.0" cy="700.2" r="2.75"/><circle cx="725.8" cy="704.5" r="2.75"/><circle cx="724.8" cy="708.5" r="2.75"/><circle cx="727.3" cy="710.1" r="2.75"/><circle cx="725.8" cy="712.6" r="2.75"/><circle cx="728.9" cy="715.7" r="2.75"/><circle cx="736.0" cy="719.9" r="2.75"/><circle cx="709.9" cy="720.2" r="2.75"/><circle cx="714.1" cy="724.3" r="2.75"/><circle cx="719.7" cy="725.3" r="2.75"/><circle cx="722.8" cy="728.4" r="2.75"/><circle cx="727.8" cy="722.8" r="2.75"/><circle cx="730.9" cy="725.8" r="2.75"/><circle cx="736.0" cy="730.9" r="2.75"/><circle cx="741.1" cy="728.9" r="2.75"/><circle cx="744.1" cy="726.8" r="2.75"/><circle cx="741.6" cy="707.5" r="2.75"/><circle cx="746.1" cy="709.6" r="2.75"/><circle cx="746.7" cy="712.8" r="2.75"/><circle cx="745.1" cy="700.9" r="2.75"/><circle cx="764.4" cy="699.4" r="2.75"/><circle cx="766.0" cy="702.4" r="2.75"/><circle cx="759.9" cy="706.0" r="2.75"/><circle cx="765.0" cy="707.5" r="2.75"/><circle cx="765.5" cy="715.2" r="2.75"/><circle cx="762.4" cy="723.6" r="2.75"/><circle cx="776.4" cy="722.6" r="2.75"/><circle cx="780.7" cy="712.6" r="2.75"/><circle cx="782.7" cy="707.0" r="2.75"/><circle cx="756.3" cy="727.4" r="2.75"/><circle cx="751.7" cy="730.4" r="2.75"/><circle cx="758.3" cy="734.0" r="2.75"/><circle cx="682.1" cy="732.9" r="2.75"/><circle cx="686.2" cy="731.9" r="2.75"/><circle cx="690.2" cy="734.0" r="2.75"/><circle cx="695.3" cy="730.9" r="2.75"/><circle cx="705.0" cy="732.9" r="2.75"/><circle cx="710.6" cy="726.8" r="2.75"/><circle cx="712.6" cy="735.0" r="2.75"/><circle cx="715.6" cy="735.0" r="2.75"/><circle cx="719.7" cy="736.0" r="2.75"/><circle cx="723.8" cy="737.0" r="2.75"/><circle cx="730.9" cy="737.0" r="2.75"/><circle cx="722.8" cy="741.1" r="2.75"/><circle cx="721.7" cy="745.1" r="2.75"/><circle cx="723.8" cy="746.2" r="2.75"/><circle cx="726.8" cy="742.1" r="2.75"/><circle cx="728.9" cy="740.1" r="2.75"/><circle cx="689.2" cy="737.0" r="2.75"/><circle cx="690.2" cy="740.1" r="2.75"/><circle cx="692.8" cy="741.6" r="2.75"/><circle cx="700.4" cy="739.6" r="2.75"/><circle cx="706.0" cy="739.0" r="2.75"/><circle cx="683.1" cy="744.1" r="2.75"/><circle cx="686.2" cy="745.1" r="2.75"/><circle cx="689.2" cy="746.2" r="2.75"/><circle cx="692.8" cy="747.2" r="2.75"/><circle cx="696.3" cy="746.2" r="2.75"/><circle cx="699.4" cy="745.1" r="2.75"/><circle cx="702.4" cy="744.1" r="2.75"/><circle cx="709.5" cy="746.2" r="2.75"/><circle cx="715.1" cy="743.1" r="2.75"/><circle cx="685.1" cy="749.2" r="2.75"/><circle cx="688.2" cy="748.2" r="2.75"/><circle cx="697.3" cy="749.2" r="2.75"/><circle cx="701.4" cy="748.2" r="2.75"/><circle cx="706.5" cy="749.2" r="2.75"/><circle cx="718.2" cy="752.3" r="2.75"/><circle cx="721.7" cy="754.3" r="2.75"/><circle cx="726.3" cy="750.7" r="2.75"/><circle cx="751.2" cy="740.1" r="2.75"/><circle cx="743.6" cy="741.6" r="2.75"/><circle cx="737.5" cy="745.7" r="2.75"/><circle cx="741.1" cy="746.2" r="2.75"/><circle cx="757.8" cy="745.1" r="2.75"/><circle cx="778.2" cy="749.7" r="2.75"/><circle cx="783.8" cy="751.2" r="2.75"/><circle cx="770.0" cy="751.5" r="2.75"/><circle cx="777.7" cy="737.0" r="2.75"/><circle cx="781.2" cy="736.5" r="2.75"/><circle cx="774.6" cy="737.0" r="2.75"/><circle cx="684.6" cy="754.3" r="2.75"/><circle cx="685.1" cy="760.4" r="2.75"/><circle cx="692.3" cy="760.4" r="2.75"/><circle cx="692.8" cy="764.5" r="2.75"/><circle cx="700.9" cy="757.9" r="2.75"/><circle cx="705.0" cy="759.4" r="2.75"/><circle cx="708.5" cy="762.4" r="2.75"/><circle cx="711.1" cy="757.3" r="2.75"/><circle cx="718.2" cy="759.4" r="2.75"/><circle cx="730.9" cy="755.3" r="2.75"/><circle cx="736.0" cy="756.3" r="2.75"/><circle cx="735.0" cy="761.4" r="2.75"/><circle cx="733.9" cy="766.0" r="2.75"/><circle cx="743.6" cy="755.3" r="2.75"/><circle cx="743.6" cy="758.9" r="2.75"/><circle cx="759.9" cy="753.1" r="2.75"/><circle cx="770.5" cy="754.3" r="2.75"/><circle cx="771.1" cy="756.3" r="2.75"/><circle cx="767.5" cy="757.9" r="2.75"/><circle cx="763.4" cy="758.9" r="2.75"/><circle cx="758.3" cy="761.4" r="2.75"/><circle cx="753.3" cy="760.9" r="2.75"/><circle cx="747.2" cy="764.0" r="2.75"/><circle cx="750.7" cy="764.5" r="2.75"/><circle cx="751.2" cy="767.0" r="2.75"/><circle cx="749.2" cy="763.4" r="2.75"/><circle cx="740.0" cy="766.5" r="2.75"/><circle cx="743.1" cy="768.0" r="2.75"/><circle cx="776.6" cy="754.8" r="2.75"/><circle cx="777.2" cy="764.5" r="2.75"/><circle cx="776.1" cy="767.5" r="2.75"/><circle cx="768.5" cy="768.5" r="2.75"/><circle cx="723.8" cy="764.5" r="2.75"/><circle cx="726.8" cy="765.5" r="2.75"/><circle cx="729.4" cy="766.0" r="2.75"/><circle cx="724.8" cy="768.5" r="2.75"/><circle cx="726.8" cy="770.6" r="2.75"/><circle cx="728.9" cy="772.1" r="2.75"/><circle cx="731.4" cy="775.1" r="2.75"/><circle cx="711.1" cy="769.0" r="2.75"/><circle cx="715.1" cy="769.0" r="2.75"/><circle cx="718.2" cy="769.0" r="2.75"/><circle cx="700.9" cy="768.5" r="2.75"/><circle cx="701.4" cy="771.1" r="2.75"/><circle cx="688.2" cy="770.6" r="2.75"/><circle cx="687.2" cy="775.1" r="2.75"/><circle cx="694.3" cy="772.1" r="2.75"/><circle cx="696.3" cy="775.6" r="2.75"/><circle cx="697.3" cy="777.7" r="2.75"/><circle cx="687.2" cy="780.7" r="2.75"/><circle cx="700.9" cy="781.2" r="2.75"/><circle cx="718.2" cy="776.2" r="2.75"/><circle cx="725.3" cy="777.2" r="2.75"/><circle cx="748.7" cy="772.6" r="2.75"/><circle cx="748.2" cy="776.7" r="2.75"/><circle cx="755.3" cy="770.6" r="2.75"/><circle cx="753.3" cy="774.6" r="2.75"/><circle cx="758.3" cy="775.1" r="2.75"/><circle cx="758.3" cy="779.2" r="2.75"/><circle cx="740.0" cy="781.2" r="2.75"/><circle cx="779.7" cy="782.8" r="2.75"/><circle cx="682.1" cy="789.1" r="2.75"/><circle cx="688.2" cy="791.1" r="2.75"/><circle cx="691.2" cy="789.1" r="2.75"/><circle cx="692.8" cy="787.0" r="2.75"/><circle cx="699.4" cy="793.9" r="2.75"/><circle cx="706.5" cy="796.2" r="2.75"/><circle cx="708.5" cy="797.2" r="2.75"/><circle cx="711.6" cy="796.0" r="2.75"/><circle cx="706.5" cy="798.2" r="2.75"/><circle cx="691.2" cy="801.3" r="2.75"/><circle cx="693.8" cy="800.2" r="2.75"/><circle cx="697.9" cy="807.4" r="2.75"/><circle cx="705.5" cy="804.3" r="2.75"/><circle cx="721.2" cy="786.5" r="2.75"/><circle cx="722.3" cy="797.7" r="2.75"/><circle cx="725.8" cy="796.7" r="2.75"/><circle cx="724.8" cy="806.3" r="2.75"/><circle cx="727.8" cy="810.4" r="2.75"/><circle cx="750.2" cy="785.5" r="2.75"/><circle cx="756.8" cy="793.3" r="2.75"/><circle cx="758.3" cy="800.5" r="2.75"/><circle cx="769.7" cy="795.2" r="2.75"/><circle cx="782.2" cy="804.1" r="2.75"/><circle cx="785.8" cy="799.2" r="2.75"/><circle cx="689.2" cy="819.1" r="2.75"/><circle cx="686.2" cy="826.2" r="2.75"/><circle cx="700.4" cy="822.4" r="2.75"/><circle cx="699.2" cy="829.2" r="2.75"/><circle cx="707.5" cy="816.7" r="2.75"/><circle cx="711.8" cy="819.4" r="2.75"/><circle cx="717.9" cy="825.5" r="2.75"/><circle cx="733.4" cy="818.5" r="2.75"/><circle cx="756.1" cy="817.0" r="2.75"/><circle cx="752.8" cy="825.0" r="2.75"/><circle cx="768.3" cy="819.1" r="2.75"/><circle cx="766.8" cy="823.1" r="2.75"/><circle cx="686.2" cy="842.4" r="2.75"/><circle cx="682.6" cy="846.0" r="2.75"/><circle cx="705.7" cy="847.0" r="2.75"/><circle cx="731.4" cy="846.7" r="2.75"/><circle cx="717.2" cy="874.2" r="2.75"/><circle cx="793.1" cy="666.4" r="2.75"/><circle cx="815.0" cy="671.7" r="2.75"/><circle cx="791.8" cy="686.4" r="2.75"/><circle cx="804.3" cy="698.7" r="2.75"/><circle cx="807.3" cy="700.6" r="2.75"/><circle cx="789.6" cy="710.8" r="2.75"/><circle cx="791.6" cy="710.1" r="2.75"/><circle cx="855.1" cy="694.5" r="2.75"/><circle cx="849.2" cy="720.5" r="2.75"/><circle cx="874.2" cy="718.4" r="2.75"/><circle cx="801.0" cy="723.6" r="2.75"/><circle cx="799.5" cy="729.7" r="2.75"/><circle cx="794.6" cy="731.4" r="2.75"/><circle cx="791.1" cy="733.5" r="2.75"/><circle cx="787.5" cy="736.5" r="2.75"/><circle cx="800.2" cy="736.5" r="2.75"/><circle cx="815.5" cy="735.8" r="2.75"/><circle cx="819.5" cy="735.8" r="2.75"/><circle cx="814.0" cy="738.8" r="2.75"/><circle cx="811.4" cy="751.8" r="2.75"/><circle cx="815.0" cy="752.5" r="2.75"/><circle cx="826.5" cy="750.2" r="2.75"/><circle cx="842.4" cy="759.9" r="2.75"/><circle cx="873.9" cy="752.3" r="2.75"/><circle cx="885.6" cy="745.9" r="2.75"/><circle cx="795.1" cy="759.2" r="2.75"/><circle cx="802.3" cy="759.2" r="2.75"/><circle cx="790.3" cy="766.8" r="2.75"/><circle cx="799.4" cy="766.8" r="2.75"/><circle cx="809.4" cy="764.5" r="2.75"/><circle cx="808.4" cy="767.5" r="2.75"/><circle cx="812.9" cy="765.0" r="2.75"/><circle cx="815.5" cy="768.3" r="2.75"/><circle cx="829.5" cy="765.0" r="2.75"/><circle cx="832.8" cy="770.1" r="2.75"/><circle cx="894.3" cy="771.3" r="2.75"/><circle cx="792.3" cy="787.5" r="2.75"/><circle cx="808.4" cy="791.1" r="2.75"/><circle cx="825.4" cy="786.5" r="2.75"/><circle cx="834.0" cy="793.9" r="2.75"/><circle cx="862.8" cy="785.8" r="2.75"/><circle cx="890.2" cy="794.4" r="2.75"/><circle cx="816.7" cy="799.7" r="2.75"/><circle cx="802.1" cy="805.5" r="2.75"/><circle cx="797.7" cy="810.7" r="2.75"/><circle cx="842.4" cy="806.9" r="2.75"/><circle cx="849.5" cy="804.5" r="2.75"/><circle cx="857.9" cy="799.9" r="2.75"/><circle cx="865.1" cy="816.0" r="2.75"/><circle cx="788.8" cy="833.8" r="2.75"/><circle cx="803.0" cy="840.7" r="2.75"/><circle cx="945.0" cy="591.9" r="2.75"/><circle cx="989.5" cy="620.4" r="2.75"/><circle cx="969.0" cy="709.1" r="2.75"/><circle cx="925.3" cy="735.0" r="2.75"/><circle cx="903.6" cy="746.7" r="2.75"/><circle cx="931.8" cy="749.7" r="2.75"/><circle cx="997.9" cy="766.8" r="2.75"/><circle cx="948.9" cy="778.7" r="2.75"/><circle cx="688.2" cy="707.2" r="2.75"/><circle cx="694.9" cy="712.8" r="2.75"/><circle cx="690.4" cy="717.2" r="2.75"/><circle cx="700.4" cy="719.4" r="2.75"/><circle cx="686.0" cy="722.7" r="2.75"/><circle cx="696.0" cy="723.9" r="2.75"/><circle cx="692.6" cy="731.6" r="2.75"/><circle cx="698.2" cy="740.5" r="2.75"/><circle cx="702.6" cy="739.4" r="2.75"/><circle cx="689.3" cy="746.0" r="2.75"/><circle cx="696.0" cy="747.1" r="2.75"/><circle cx="704.8" cy="746.0" r="2.75"/><circle cx="684.9" cy="757.1" r="2.75"/><circle cx="700.4" cy="757.1" r="2.75"/><circle cx="709.3" cy="757.1" r="2.75"/></g>
<path d="M682.1,719.8 L690.0,721.5 L697.9,723.2 L705.8,724.8 L713.7,726.4 L721.6,727.9 L729.5,729.4 L737.3,730.7 L745.2,731.9 L753.1,733.0 L761.0,734.0 L768.9,734.8 L776.8,735.6 L784.7,736.3 L792.6,737.0 L800.5,737.6 L808.4,738.2 L816.3,738.7 L824.2,739.3 L832.1,739.8 L840.0,740.3 L847.8,740.8 L855.7,741.3 L863.6,741.8 L871.5,742.3 L879.4,742.8 L887.3,743.2 L895.2,743.7 L903.1,744.2 L911.0,744.7 L918.9,745.1 L926.8,745.6 L934.7,746.0 L942.6,746.5 L950.4,747.0 L958.3,747.4 L966.2,747.9 L974.1,748.3 L982.0,748.8 L989.9,749.2 L997.8,749.7 L997.8,795.9 L989.9,794.0 L982.0,792.2 L974.1,790.3 L966.2,788.5 L958.3,786.7 L950.4,784.8 L942.6,783.0 L934.7,781.1 L926.8,779.3 L918.9,777.4 L911.0,775.6 L903.1,773.7 L895.2,771.9 L887.3,770.1 L879.4,768.3 L871.5,766.4 L863.6,764.6 L855.7,762.8 L847.8,761.0 L840.0,759.2 L832.1,757.4 L824.2,755.6 L816.3,753.9 L808.4,752.1 L800.5,750.4 L792.6,748.7 L784.7,747.0 L776.8,745.4 L768.9,743.9 L761.0,742.5 L753.1,741.1 L745.2,739.9 L737.3,738.8 L729.5,737.9 L721.6,737.0 L713.7,736.2 L705.8,735.5 L697.9,734.8 L690.0,734.2 L682.1,733.6 Z" fill="#999999" fill-opacity="0.4"/>
<line x1="682.1" y1="726.7" x2="997.8" y2="772.8" stroke="#3366ff" stroke-width="2.4"/>
<text x="682.8" y="589.8" font-size="13.2" fill="#444" textLength="135.5" lengthAdjust="spacingAndGlyphs"><tspan font-style="italic">R</tspan> = −0.26, <tspan font-style="italic">p</tspan> = 6.7e−08</text>
<rect x="666.9" y="559.8" width="346.6" height="329.0" fill="none" stroke="#a0a0a0" stroke-width="1.2"/>
<line x1="681.6" y1="888.8" x2="681.6" y2="891.8" stroke="#555" stroke-width="1"/>
<text x="681.6" y="902.8" font-size="12" text-anchor="middle" fill="#595959" >0</text>
<line x1="765.8" y1="888.8" x2="765.8" y2="891.8" stroke="#555" stroke-width="1"/>
<text x="765.8" y="902.8" font-size="12" text-anchor="middle" fill="#595959" >1</text>
<line x1="850.0" y1="888.8" x2="850.0" y2="891.8" stroke="#555" stroke-width="1"/>
<text x="850.0" y="902.8" font-size="12" text-anchor="middle" fill="#595959" >2</text>
<line x1="934.2" y1="888.8" x2="934.2" y2="891.8" stroke="#555" stroke-width="1"/>
<text x="934.2" y="902.8" font-size="12" text-anchor="middle" fill="#595959" >3</text>
<line x1="663.9" y1="873.9" x2="666.9" y2="873.9" stroke="#555" stroke-width="1"/>
<text x="660.3" y="878.0" font-size="12" text-anchor="end" fill="#595959" >0</text>
<line x1="663.9" y1="813.2" x2="666.9" y2="813.2" stroke="#555" stroke-width="1"/>
<text x="660.3" y="817.3" font-size="12" text-anchor="end" fill="#595959" >1</text>
<line x1="663.9" y1="752.5" x2="666.9" y2="752.5" stroke="#555" stroke-width="1"/>
<text x="660.3" y="756.6" font-size="12" text-anchor="end" fill="#595959" >2</text>
<line x1="663.9" y1="691.8" x2="666.9" y2="691.8" stroke="#555" stroke-width="1"/>
<text x="660.3" y="695.9" font-size="12" text-anchor="end" fill="#595959" >3</text>
<line x1="663.9" y1="631.1" x2="666.9" y2="631.1" stroke="#555" stroke-width="1"/>
<text x="660.3" y="635.2" font-size="12" text-anchor="end" fill="#595959" >4</text>
<line x1="663.9" y1="570.4" x2="666.9" y2="570.4" stroke="#555" stroke-width="1"/>
<text x="660.3" y="574.5" font-size="12" text-anchor="end" fill="#595959" >5</text>
<text x="775.0" y="917.3" font-size="13" text-anchor="start" fill="#333" textLength="130.5" lengthAdjust="spacingAndGlyphs" >MSC−AS1 expression</text>
<text transform="translate(648.5,724.0) rotate(-90)" font-size="13" text-anchor="middle" fill="#333" textLength="181.0" lengthAdjust="spacingAndGlyphs">hsa−miR−664b−3p expression</text>
<path d="M682.6,512.7 C683.4,511.2 685.7,506.1 687.3,503.9 C688.9,501.6 690.4,500.3 692.0,499.1 C693.6,498.0 695.1,497.1 696.7,496.9 C698.3,496.8 699.6,497.2 701.4,498.2 C703.3,499.2 705.1,501.0 707.7,503.2 C710.3,505.5 714.0,509.1 717.1,511.7 C720.3,514.3 723.4,516.7 726.6,518.9 C729.7,521.2 732.9,523.4 736.0,525.2 C739.1,527.1 742.3,528.6 745.4,529.9 C748.6,531.2 751.7,532.0 754.9,533.1 C758.0,534.1 761.1,535.1 764.3,536.2 C767.4,537.3 770.6,538.7 773.7,539.7 C776.9,540.7 780.0,541.6 783.1,542.2 C786.3,542.8 789.4,543.0 792.6,543.5 C795.7,543.9 798.8,544.1 802.0,544.7 C805.1,545.3 808.3,546.1 811.4,546.9 C814.6,547.7 817.7,548.9 820.8,549.7 C824.0,550.6 827.1,551.4 830.3,551.9 C833.4,552.5 835.0,552.9 839.7,553.2 C844.4,553.5 850.2,553.6 858.6,553.8 C866.9,554.1 879.5,554.6 890.0,554.8 C900.5,555.0 913.6,555.1 921.4,555.1 C929.3,555.1 931.9,554.8 937.1,554.8 C942.4,554.8 945.0,555.0 952.8,555.1 C960.7,555.2 976.7,555.3 984.3,555.4 C991.9,555.5 996.1,555.7 998.4,555.7 L998.4,556.7 L682.6,556.7 Z" fill="#ffa500"/>
<path d="M682.6,512.7 C683.4,511.2 685.7,506.1 687.3,503.9 C688.9,501.6 690.4,500.3 692.0,499.1 C693.6,498.0 695.1,497.1 696.7,496.9 C698.3,496.8 699.6,497.2 701.4,498.2 C703.3,499.2 705.1,501.0 707.7,503.2 C710.3,505.5 714.0,509.1 717.1,511.7 C720.3,514.3 723.4,516.7 726.6,518.9 C729.7,521.2 732.9,523.4 736.0,525.2 C739.1,527.1 742.3,528.6 745.4,529.9 C748.6,531.2 751.7,532.0 754.9,533.1 C758.0,534.1 761.1,535.1 764.3,536.2 C767.4,537.3 770.6,538.7 773.7,539.7 C776.9,540.7 780.0,541.6 783.1,542.2 C786.3,542.8 789.4,543.0 792.6,543.5 C795.7,543.9 798.8,544.1 802.0,544.7 C805.1,545.3 808.3,546.1 811.4,546.9 C814.6,547.7 817.7,548.9 820.8,549.7 C824.0,550.6 827.1,551.4 830.3,551.9 C833.4,552.5 835.0,552.9 839.7,553.2 C844.4,553.5 850.2,553.6 858.6,553.8 C866.9,554.1 879.5,554.6 890.0,554.8 C900.5,555.0 913.6,555.1 921.4,555.1 C929.3,555.1 931.9,554.8 937.1,554.8 C942.4,554.8 945.0,555.0 952.8,555.1 C960.7,555.2 976.7,555.3 984.3,555.4 C991.9,555.5 996.1,555.7 998.4,555.7" fill="none" stroke="#444" stroke-width="0.9"/>
<path d="M1017.9,574.7 C1018.1,576.9 1019.1,582.8 1019.4,588.2 C1019.7,593.6 1019.5,602.3 1019.7,607.0 C1020.0,611.7 1020.1,613.3 1020.7,616.4 C1021.3,619.6 1022.4,622.7 1023.5,625.8 C1024.6,629.0 1025.9,632.1 1027.3,635.2 C1028.6,638.4 1030.5,641.5 1031.6,644.6 C1032.7,647.8 1033.2,650.9 1033.9,654.0 C1034.5,657.2 1034.8,660.3 1035.7,663.4 C1036.7,666.6 1037.9,669.7 1039.5,672.8 C1041.1,676.0 1043.4,679.1 1045.1,682.2 C1046.9,685.4 1048.4,688.5 1049.8,691.7 C1051.3,694.8 1052.2,697.9 1053.6,701.1 C1055.0,704.2 1056.3,707.3 1058.3,710.5 C1060.3,713.6 1063.2,716.7 1065.8,719.9 C1068.5,723.0 1072.1,726.1 1074.3,729.3 C1076.5,732.4 1078.1,735.5 1079.0,738.7 C1079.9,741.8 1080.4,744.9 1079.9,748.1 C1079.5,751.2 1077.9,754.3 1076.2,757.5 C1074.4,760.6 1072.3,763.7 1069.6,766.9 C1066.9,770.0 1063.3,773.2 1060.2,776.3 C1057.0,779.4 1053.4,782.6 1050.8,785.7 C1048.1,788.8 1046.2,792.0 1044.2,795.1 C1042.2,798.2 1040.3,801.4 1038.6,804.5 C1036.8,807.6 1035.3,810.8 1033.9,813.9 C1032.4,817.0 1031.3,820.2 1030.1,823.3 C1028.8,826.4 1027.4,829.6 1026.3,832.7 C1025.2,835.8 1024.4,839.0 1023.5,842.1 C1022.6,845.2 1021.5,848.4 1020.7,851.5 C1019.9,854.7 1019.4,857.2 1018.8,860.9 C1018.2,864.6 1017.6,871.6 1017.3,873.7 L1017.3,873.7 L1017.3,574.7 Z" fill="#0000ff"/>
<path d="M1017.9,574.7 C1018.1,576.9 1019.1,582.8 1019.4,588.2 C1019.7,593.6 1019.5,602.3 1019.7,607.0 C1020.0,611.7 1020.1,613.3 1020.7,616.4 C1021.3,619.6 1022.4,622.7 1023.5,625.8 C1024.6,629.0 1025.9,632.1 1027.3,635.2 C1028.6,638.4 1030.5,641.5 1031.6,644.6 C1032.7,647.8 1033.2,650.9 1033.9,654.0 C1034.5,657.2 1034.8,660.3 1035.7,663.4 C1036.7,666.6 1037.9,669.7 1039.5,672.8 C1041.1,676.0 1043.4,679.1 1045.1,682.2 C1046.9,685.4 1048.4,688.5 1049.8,691.7 C1051.3,694.8 1052.2,697.9 1053.6,701.1 C1055.0,704.2 1056.3,707.3 1058.3,710.5 C1060.3,713.6 1063.2,716.7 1065.8,719.9 C1068.5,723.0 1072.1,726.1 1074.3,729.3 C1076.5,732.4 1078.1,735.5 1079.0,738.7 C1079.9,741.8 1080.4,744.9 1079.9,748.1 C1079.5,751.2 1077.9,754.3 1076.2,757.5 C1074.4,760.6 1072.3,763.7 1069.6,766.9 C1066.9,770.0 1063.3,773.2 1060.2,776.3 C1057.0,779.4 1053.4,782.6 1050.8,785.7 C1048.1,788.8 1046.2,792.0 1044.2,795.1 C1042.2,798.2 1040.3,801.4 1038.6,804.5 C1036.8,807.6 1035.3,810.8 1033.9,813.9 C1032.4,817.0 1031.3,820.2 1030.1,823.3 C1028.8,826.4 1027.4,829.6 1026.3,832.7 C1025.2,835.8 1024.4,839.0 1023.5,842.1 C1022.6,845.2 1021.5,848.4 1020.7,851.5 C1019.9,854.7 1019.4,857.2 1018.8,860.9 C1018.2,864.6 1017.6,871.6 1017.3,873.7" fill="none" stroke="#222" stroke-width="0.9"/>
<polyline points="478.4,1037.2 478.9,1037.2 478.9,1039.8 479.5,1039.8 479.5,1042.3 480.0,1042.3 480.0,1044.9 480.6,1044.9 480.6,1047.4 481.1,1047.4 481.1,1050.0 481.9,1050.0 481.9,1052.2 482.8,1052.2 482.8,1054.5 483.6,1054.5 483.6,1056.8 484.4,1056.8 484.4,1059.0 485.1,1059.0 485.1,1061.6 485.8,1061.6 485.8,1064.2 486.5,1064.2 486.5,1066.8 487.2,1066.8 487.2,1069.4 487.9,1069.4 487.9,1071.7 488.5,1071.7 488.5,1074.0 489.1,1074.0 489.1,1076.3 489.8,1076.3 489.8,1078.7 490.5,1078.7 490.5,1081.0 491.1,1081.0 491.1,1083.3 492.0,1083.3 492.0,1086.2 492.9,1086.2 492.9,1089.1 493.8,1089.1 493.8,1092.0 494.5,1092.0 494.5,1094.4 495.2,1094.4 495.2,1096.8 495.9,1096.8 495.9,1099.2 496.6,1099.2 496.6,1101.6 497.7,1101.6 497.7,1104.0 498.8,1104.0 498.8,1106.5 500.0,1106.5 500.0,1108.9 501.1,1108.9 501.1,1111.4 502.2,1111.4 502.2,1113.8 503.1,1113.8 503.1,1116.0 504.0,1116.0 504.0,1118.2 504.8,1118.2 504.8,1120.5 505.7,1120.5 505.7,1122.7 506.6,1122.7 506.6,1124.9 507.4,1124.9 507.4,1127.1 508.2,1127.1 508.2,1129.3 508.9,1129.3 508.9,1131.6 509.7,1131.6 509.7,1133.8 510.5,1133.8 510.5,1136.0 513.1,1136.0 513.1,1138.8 515.7,1138.8 515.7,1141.7 520.5,1141.7 520.5,1145.3 522.3,1145.3 522.3,1148.3 524.1,1148.3 524.1,1151.4 530.0,1151.4 530.0,1154.3 533.3,1154.3 533.3,1156.0 537.8,1156.0 537.8,1156.6 541.1,1156.6 541.1,1159.3 541.6,1159.3 541.6,1163.4 547.7,1163.4 547.7,1163.8 550.0,1163.8 550.0,1166.0 553.3,1166.0 553.3,1168.2 557.7,1168.2 557.7,1169.9 558.8,1169.9 558.8,1171.0 568.3,1171.0 568.8,1171.0 568.8,1174.3 596.5,1174.3 596.5,1179.3 604.3,1179.3 604.8,1179.3 604.8,1181.8 605.4,1181.8 605.4,1184.3 611.0,1184.3 611.0,1184.8 611.2,1184.8 611.2,1187.6 611.5,1187.6 611.5,1190.4 621.5,1190.4 621.5,1198.1 707.0,1198.1" fill="none" stroke="#ff0000" stroke-width="1.8" stroke-linejoin="miter"/>
<polyline points="477.2,1036.8 483.2,1036.8 483.2,1040.8 484.2,1040.8 484.2,1043.2 485.2,1043.2 485.2,1045.6 486.2,1045.6 486.2,1048.0 486.7,1048.0 486.7,1050.2 487.2,1050.2 487.2,1052.4 487.7,1052.4 487.7,1054.6 488.2,1054.6 488.2,1056.8 488.7,1056.8 488.7,1059.0 489.2,1059.0 489.2,1061.2 490.4,1061.2 490.4,1064.0 491.6,1064.0 491.6,1066.8 492.8,1066.8 492.8,1069.6 495.2,1069.6 495.2,1072.7 497.6,1072.7 497.6,1075.7 499.2,1075.7 499.2,1078.1 500.8,1078.1 500.8,1080.5 502.4,1080.5 502.4,1082.9 502.8,1082.9 502.8,1085.3 503.3,1085.3 503.3,1087.7 503.8,1087.7 503.8,1090.1 504.2,1090.1 504.2,1092.5 504.8,1092.5 504.8,1095.3 505.4,1095.3 505.4,1098.1 506.0,1098.1 506.0,1100.9 509.6,1100.9 509.6,1104.5 513.3,1104.5 513.3,1108.1 518.1,1108.1 518.1,1111.7 519.9,1111.7 519.9,1114.1 521.7,1114.1 521.7,1116.5 526.5,1116.5 526.5,1120.5 530.0,1120.5 530.0,1122.2 534.4,1122.2 534.4,1122.7 535.5,1122.7 535.5,1125.5 538.3,1125.5 538.3,1128.8 553.8,1128.8 555.0,1128.8 555.0,1132.2 560.0,1132.2 561.6,1132.2 561.6,1135.5 565.5,1135.5 565.5,1137.7 567.7,1137.7 567.7,1142.1 706.0,1142.1" fill="none" stroke="#0000ff" stroke-width="1.8" stroke-linejoin="miter"/>
<polygon points="478.4,1037.2 484.4,1046.8 489.5,1065.6 493.4,1076.7 497.8,1087.8 501.7,1096.1 504.5,1104.5 506.1,1110.0 508.3,1118.3 512.8,1121.1 518.3,1126.6 521.1,1131.1 525.0,1136.6 530.0,1139.4 538.3,1139.4 538.3,1142.1 541.6,1142.1 541.6,1145.5 547.7,1145.5 547.7,1148.8 555.0,1148.8 555.0,1150.5 562.2,1150.5 562.2,1152.1 566.6,1152.1 566.6,1155.5 596.5,1155.5 596.5,1158.2 605.4,1158.2 605.4,1162.1 611.0,1162.1 611.0,1165.4 621.5,1165.4 621.5,1169.0 705.9,1169.0 705.9,1214.8 621.5,1214.8 621.5,1207.0 611.5,1207.0 611.5,1200.9 605.4,1200.9 605.4,1194.8 596.5,1194.8 596.5,1189.3 568.8,1189.3 568.8,1186.0 559.4,1186.0 559.4,1182.6 553.3,1182.6 553.3,1179.8 547.7,1179.8 547.7,1177.6 541.6,1177.6 541.6,1173.7 538.9,1171.0 530.0,1170.4 525.3,1167.0 521.7,1161.0 515.7,1157.4 510.9,1151.4 508.4,1143.0 504.4,1136.0 502.2,1127.6 498.3,1113.8 493.9,1097.1 489.4,1083.3 485.5,1066.6 481.0,1045.0 478.4,1037.2" fill="#ff0000" fill-opacity="0.3"/>
<polygon points="477.2,1036.8 486.8,1045.6 490.4,1054.0 494.0,1061.2 497.6,1066.0 501.8,1069.6 503.6,1080.5 506.0,1087.7 510.9,1088.9 515.7,1093.7 520.5,1098.5 525.3,1102.1 530.0,1103.9 535.0,1103.9 535.0,1106.1 538.3,1106.1 538.3,1108.0 555.0,1108.0 555.0,1111.1 562.2,1111.1 562.2,1114.4 566.6,1114.4 566.6,1117.5 705.9,1117.5 705.9,1162.1 566.6,1162.1 566.6,1155.5 562.2,1155.5 562.2,1150.5 555.0,1150.5 555.0,1145.5 538.3,1145.5 538.3,1142.1 535.0,1142.1 535.0,1138.8 527.7,1138.8 525.5,1137.6 521.6,1132.1 518.8,1127.6 513.3,1122.1 508.8,1119.3 506.6,1111.0 505.0,1105.5 502.2,1097.1 498.3,1088.8 493.9,1077.7 490.0,1066.6 484.4,1048.0 477.2,1036.8" fill="#0000ff" fill-opacity="0.3"/>
<path d="M476.7,1040.1h4.6M479.0,1037.8v4.6M477.9,1045.9h4.6M480.2,1043.6v4.6M479.4,1051.6h4.6M481.7,1049.3v4.6M481.4,1057.2h4.6M483.7,1054.9v4.6M483.1,1062.9h4.6M485.4,1060.6v4.6M484.7,1068.6h4.6M487.0,1066.3v4.6M486.3,1074.3h4.6M488.6,1072.0v4.6M487.9,1080.0h4.6M490.2,1077.7v4.6M489.6,1085.7h4.6M491.9,1083.4v4.6M491.3,1091.4h4.6M493.6,1089.1v4.6M493.0,1097.1h4.6M495.3,1094.8v4.6M494.8,1102.7h4.6M497.1,1100.4v4.6M497.3,1108.1h4.6M499.6,1105.8v4.6M499.8,1113.5h4.6M502.1,1111.2v4.6M502.0,1119.0h4.6M504.3,1116.7v4.6M504.2,1124.5h4.6M506.5,1122.2v4.6M506.1,1130.1h4.6M508.4,1127.8v4.6M508.1,1135.7h4.6M510.4,1133.4v4.6M512.0,1140.2h4.6M514.3,1137.9v4.6M516.5,1144.0h4.6M518.8,1141.7v4.6M520.1,1148.6h4.6M522.4,1146.3v4.6M524.2,1152.6h4.6M526.5,1150.3v4.6M529.5,1155.2h4.6M531.8,1152.9v4.6M535.2,1156.6h4.6M537.5,1154.3v4.6M539.0,1160.6h4.6M541.3,1158.3v4.6M542.4,1163.6h4.6M544.7,1161.3v4.6M554.6,1169.9h4.6M556.9,1167.6v4.6M561.8,1171.0h4.6M564.1,1168.7v4.6M578.6,1174.3h4.6M580.9,1172.0v4.6M583.4,1174.3h4.6M585.7,1172.0v4.6M585.8,1174.3h4.6M588.1,1172.0v4.6M627.9,1198.1h4.6M630.2,1195.8v4.6M630.3,1198.1h4.6M632.6,1195.8v4.6M648.8,1198.1h4.6M651.1,1195.8v4.6M700.0,1198.1h4.6M702.3,1195.8v4.6M703.6,1198.1h4.6M705.9,1195.8v4.6M548.4,1166.0h4.6M550.7,1163.7v4.6M567.7,1174.3h4.6M570.0,1172.0v4.6M571.7,1174.3h4.6M574.0,1172.0v4.6" stroke="#ff0000" stroke-width="1.1" fill="none"/>
<path d="M477.4,1038.5h4.6M479.7,1036.2v4.6M481.6,1042.5h4.6M483.9,1040.2v4.6M483.9,1048.0h4.6M486.2,1045.7v4.6M485.2,1053.9h4.6M487.5,1051.6v4.6M486.6,1059.7h4.6M488.9,1057.4v4.6M488.7,1065.3h4.6M491.0,1063.0v4.6M491.3,1070.7h4.6M493.6,1068.4v4.6M495.0,1075.4h4.6M497.3,1073.1v4.6M498.4,1080.4h4.6M500.7,1078.1v4.6M500.6,1085.8h4.6M502.9,1083.5v4.6M501.8,1091.7h4.6M504.1,1089.4v4.6M503.0,1097.6h4.6M505.3,1095.3v4.6M505.5,1102.7h4.6M507.8,1100.4v4.6M509.8,1107.0h4.6M512.1,1104.7v4.6M514.5,1110.7h4.6M516.8,1108.4v4.6M518.4,1115.2h4.6M520.7,1112.9v4.6M522.8,1119.3h4.6M525.1,1117.0v4.6M527.9,1122.2h4.6M530.2,1119.9v4.6M532.8,1124.4h4.6M535.1,1122.1v4.6M536.5,1128.8h4.6M538.8,1126.5v4.6M542.5,1128.8h4.6M544.8,1126.5v4.6M548.5,1128.8h4.6M550.8,1126.5v4.6M566.6,1142.1h4.6M568.9,1139.8v4.6M573.3,1142.1h4.6M575.6,1139.8v4.6M580.5,1142.1h4.6M582.8,1139.8v4.6M595.4,1142.1h4.6M597.7,1139.8v4.6M597.4,1142.1h4.6M599.7,1139.8v4.6M605.8,1142.1h4.6M608.1,1139.8v4.6M629.8,1142.1h4.6M632.1,1139.8v4.6M647.8,1142.1h4.6M650.1,1139.8v4.6M655.5,1142.1h4.6M657.8,1139.8v4.6M703.6,1142.1h4.6M705.9,1139.8v4.6M539.7,1128.8h4.6M542.0,1126.5v4.6M543.7,1128.8h4.6M546.0,1126.5v4.6M546.7,1128.8h4.6M549.0,1126.5v4.6M549.7,1128.8h4.6M552.0,1126.5v4.6" stroke="#0000ff" stroke-width="1.1" fill="none"/>
<path d="M465.1,1026.9 V1246.5 H737.0" fill="none" stroke="#666" stroke-width="1.3"/>
<line x1="462.5" y1="1036.8" x2="465.1" y2="1036.8" stroke="#666" stroke-width="1.1"/>
<text x="459.8" y="1040.1" font-size="9.6" text-anchor="end" fill="#555" font-family="'Liberation Serif', serif" textLength="18.3" lengthAdjust="spacingAndGlyphs" >1.00</text>
<line x1="462.5" y1="1086.9" x2="465.1" y2="1086.9" stroke="#666" stroke-width="1.1"/>
<text x="459.8" y="1090.2" font-size="9.6" text-anchor="end" fill="#555" font-family="'Liberation Serif', serif" textLength="18.3" lengthAdjust="spacingAndGlyphs" >0.75</text>
<line x1="462.5" y1="1137.0" x2="465.1" y2="1137.0" stroke="#666" stroke-width="1.1"/>
<text x="459.8" y="1140.3" font-size="9.6" text-anchor="end" fill="#555" font-family="'Liberation Serif', serif" textLength="18.3" lengthAdjust="spacingAndGlyphs" >0.50</text>
<line x1="462.5" y1="1187.1" x2="465.1" y2="1187.1" stroke="#666" stroke-width="1.1"/>
<text x="459.8" y="1190.4" font-size="9.6" text-anchor="end" fill="#555" font-family="'Liberation Serif', serif" textLength="18.3" lengthAdjust="spacingAndGlyphs" >0.25</text>
<line x1="462.5" y1="1237.2" x2="465.1" y2="1237.2" stroke="#666" stroke-width="1.1"/>
<text x="459.8" y="1240.5" font-size="9.6" text-anchor="end" fill="#555" font-family="'Liberation Serif', serif" textLength="18.3" lengthAdjust="spacingAndGlyphs" >0.00</text>
<line x1="477.5" y1="1246.5" x2="477.5" y2="1249.1" stroke="#666" stroke-width="1.1"/>
<text x="477.5" y="1258.9" font-size="9.6" text-anchor="middle" fill="#555" font-family="'Liberation Serif', serif" >0</text>
<line x1="494.1" y1="1246.5" x2="494.1" y2="1249.1" stroke="#666" stroke-width="1.1"/>
<text x="494.1" y="1258.9" font-size="9.6" text-anchor="middle" fill="#555" font-family="'Liberation Serif', serif" >1</text>
<line x1="510.6" y1="1246.5" x2="510.6" y2="1249.1" stroke="#666" stroke-width="1.1"/>
<text x="510.6" y="1258.9" font-size="9.6" text-anchor="middle" fill="#555" font-family="'Liberation Serif', serif" >2</text>
<line x1="527.1" y1="1246.5" x2="527.1" y2="1249.1" stroke="#666" stroke-width="1.1"/>
<text x="527.1" y="1258.9" font-size="9.6" text-anchor="middle" fill="#555" font-family="'Liberation Serif', serif" >3</text>
<line x1="543.7" y1="1246.5" x2="543.7" y2="1249.1" stroke="#666" stroke-width="1.1"/>
<text x="543.7" y="1258.9" font-size="9.6" text-anchor="middle" fill="#555" font-family="'Liberation Serif', serif" >4</text>
<line x1="560.2" y1="1246.5" x2="560.2" y2="1249.1" stroke="#666" stroke-width="1.1"/>
<text x="560.2" y="1258.9" font-size="9.6" text-anchor="middle" fill="#555" font-family="'Liberation Serif', serif" >5</text>
<line x1="576.8" y1="1246.5" x2="576.8" y2="1249.1" stroke="#666" stroke-width="1.1"/>
<text x="576.8" y="1258.9" font-size="9.6" text-anchor="middle" fill="#555" font-family="'Liberation Serif', serif" >6</text>
<line x1="593.4" y1="1246.5" x2="593.4" y2="1249.1" stroke="#666" stroke-width="1.1"/>
<text x="593.4" y="1258.9" font-size="9.6" text-anchor="middle" fill="#555" font-family="'Liberation Serif', serif" >7</text>
<line x1="609.9" y1="1246.5" x2="609.9" y2="1249.1" stroke="#666" stroke-width="1.1"/>
<text x="609.9" y="1258.9" font-size="9.6" text-anchor="middle" fill="#555" font-family="'Liberation Serif', serif" >8</text>
<line x1="626.5" y1="1246.5" x2="626.5" y2="1249.1" stroke="#666" stroke-width="1.1"/>
<text x="626.5" y="1258.9" font-size="9.6" text-anchor="middle" fill="#555" font-family="'Liberation Serif', serif" >9</text>
<line x1="643.0" y1="1246.5" x2="643.0" y2="1249.1" stroke="#666" stroke-width="1.1"/>
<text x="643.0" y="1258.9" font-size="9.6" text-anchor="middle" fill="#555" font-family="'Liberation Serif', serif" >10</text>
<line x1="659.5" y1="1246.5" x2="659.5" y2="1249.1" stroke="#666" stroke-width="1.1"/>
<text x="659.5" y="1258.9" font-size="9.6" text-anchor="middle" fill="#555" font-family="'Liberation Serif', serif" >11</text>
<line x1="676.1" y1="1246.5" x2="676.1" y2="1249.1" stroke="#666" stroke-width="1.1"/>
<text x="676.1" y="1258.9" font-size="9.6" text-anchor="middle" fill="#555" font-family="'Liberation Serif', serif" >12</text>
<line x1="692.6" y1="1246.5" x2="692.6" y2="1249.1" stroke="#666" stroke-width="1.1"/>
<text x="692.6" y="1258.9" font-size="9.6" text-anchor="middle" fill="#555" font-family="'Liberation Serif', serif" >13</text>
<line x1="709.2" y1="1246.5" x2="709.2" y2="1249.1" stroke="#666" stroke-width="1.1"/>
<text x="709.2" y="1258.9" font-size="9.6" text-anchor="middle" fill="#555" font-family="'Liberation Serif', serif" >14</text>
<line x1="725.8" y1="1246.5" x2="725.8" y2="1249.1" stroke="#666" stroke-width="1.1"/>
<text x="725.8" y="1258.9" font-size="9.6" text-anchor="middle" fill="#555" font-family="'Liberation Serif', serif" >15</text>
<text x="572.1" y="1270.5" font-size="11.2" text-anchor="start" fill="#222" textLength="59.4" lengthAdjust="spacingAndGlyphs" >Time(years)</text>
<text transform="translate(437.6,1137.1) rotate(-90)" font-size="11.1" text-anchor="middle" fill="#222" textLength="75.8" lengthAdjust="spacingAndGlyphs">Overall survival</text>
<text x="482.0" y="1201.3" font-size="13.4" text-anchor="start" fill="#222" textLength="48.8" lengthAdjust="spacingAndGlyphs" >p=0.001</text>
<text x="547.0" y="1008.6" font-size="8.2" text-anchor="start" fill="#333" textLength="37.2" lengthAdjust="spacingAndGlyphs" >MSC−AS1</text>
<rect x="589.3" y="999.2" width="12.6" height="12.3" fill="#ff0000" fill-opacity="0.3"/>
<path d="M590.3,1005.3H600.9M595.6,1002.3V1008.3" stroke="#ff0000" stroke-width="1.2"/>
<rect x="626.5" y="999.2" width="12.6" height="12.3" fill="#0000ff" fill-opacity="0.3"/>
<path d="M627.5,1005.3H638.1M632.8,1002.3V1008.3" stroke="#0000ff" stroke-width="1.2"/>
<text x="607.0" y="1008.6" font-size="8.2" text-anchor="start" fill="#333" textLength="14.7" lengthAdjust="spacingAndGlyphs" >high</text>
<text x="643.9" y="1008.6" font-size="8.2" text-anchor="start" fill="#333" textLength="11.7" lengthAdjust="spacingAndGlyphs" >low</text>
<polyline points="816.0,1035.4 817.2,1035.4 817.2,1037.7 818.4,1037.7 818.4,1039.9 819.6,1039.9 819.6,1042.2 820.8,1042.2 820.8,1044.4 821.8,1044.4 821.8,1046.8 822.7,1046.8 822.7,1049.2 823.7,1049.2 823.7,1051.6 824.6,1051.6 824.6,1054.0 825.6,1054.0 825.6,1056.4 826.3,1056.4 826.3,1058.8 827.0,1058.8 827.0,1061.2 827.8,1061.2 827.8,1063.6 828.5,1063.6 828.5,1066.0 829.2,1066.0 829.2,1068.4 830.8,1068.4 830.8,1070.8 832.4,1070.8 832.4,1073.3 834.0,1073.3 834.0,1075.7 835.6,1075.7 835.6,1078.1 837.2,1078.1 837.2,1080.5 838.8,1080.5 838.8,1082.9 839.7,1082.9 839.7,1085.3 840.6,1085.3 840.6,1087.7 841.5,1087.7 841.5,1090.1 842.4,1090.1 842.4,1092.5 843.3,1092.5 843.3,1095.2 844.2,1095.2 844.2,1097.9 845.1,1097.9 845.1,1100.6 846.0,1100.6 846.0,1103.3 846.6,1103.3 846.6,1105.7 847.2,1105.7 847.2,1108.1 847.8,1108.1 847.8,1110.5 848.4,1110.5 848.4,1112.9 850.2,1112.9 850.2,1115.9 852.1,1115.9 852.1,1118.9 858.1,1118.9 858.1,1122.5 862.9,1122.5 862.9,1126.1 876.1,1126.1 877.9,1126.1 877.9,1129.1 879.7,1129.1 879.7,1132.1 882.1,1132.1 882.1,1134.5 889.3,1134.5 894.1,1134.5 894.1,1137.5 904.9,1137.5 906.1,1137.5 906.1,1139.8 907.3,1139.8 907.3,1142.1 935.5,1142.1 935.5,1149.5 943.6,1149.5 943.6,1159.1 949.5,1159.1 949.5,1170.2 959.9,1170.2 959.9,1183.5 1044.9,1183.5" fill="none" stroke="#ff0000" stroke-width="1.8" stroke-linejoin="miter"/>
<polyline points="816.0,1035.4 817.2,1035.4 817.2,1037.7 818.4,1037.7 818.4,1040.0 819.6,1040.0 819.6,1042.2 820.8,1042.2 820.8,1044.5 822.0,1044.5 822.0,1046.8 822.7,1046.8 822.7,1049.0 823.4,1049.0 823.4,1051.3 824.1,1051.3 824.1,1053.5 824.7,1053.5 824.7,1055.7 825.4,1055.7 825.4,1057.9 826.1,1057.9 826.1,1060.2 826.8,1060.2 826.8,1062.4 827.5,1062.4 827.5,1064.8 828.2,1064.8 828.2,1067.2 829.0,1067.2 829.0,1069.7 829.7,1069.7 829.7,1072.1 830.4,1072.1 830.4,1074.5 830.9,1074.5 830.9,1076.7 831.4,1076.7 831.4,1079.0 831.9,1079.0 831.9,1081.2 832.5,1081.2 832.5,1083.4 833.0,1083.4 833.0,1085.6 833.5,1085.6 833.5,1087.9 834.0,1087.9 834.0,1090.1 834.7,1090.1 834.7,1092.5 835.4,1092.5 835.4,1094.9 836.2,1094.9 836.2,1097.3 836.9,1097.3 836.9,1099.7 837.6,1099.7 837.6,1102.1 838.3,1102.1 838.3,1104.5 839.0,1104.5 839.0,1106.9 839.8,1106.9 839.8,1109.3 840.5,1109.3 840.5,1111.7 841.2,1111.7 841.2,1114.1 842.1,1114.1 842.1,1116.5 843.0,1116.5 843.0,1118.9 843.9,1118.9 843.9,1121.3 844.8,1121.3 844.8,1123.7 847.8,1123.7 847.8,1126.7 850.9,1126.7 850.9,1129.7 853.3,1129.7 853.3,1132.7 855.7,1132.7 855.7,1135.7 858.1,1135.7 858.1,1138.1 860.5,1138.1 860.5,1140.5 861.4,1140.5 861.4,1142.9 862.3,1142.9 862.3,1145.3 863.2,1145.3 863.2,1147.8 864.1,1147.8 864.1,1150.2 868.9,1150.2 868.9,1153.8 877.3,1153.8 877.3,1156.2 884.5,1156.2 884.5,1157.4 888.1,1157.4 888.1,1161.0 894.1,1161.0 894.1,1162.2 898.9,1162.2 898.9,1165.8 903.7,1165.8 903.7,1169.4 905.5,1169.4 905.5,1172.1 907.3,1172.1 907.3,1174.7 1044.6,1174.7" fill="none" stroke="#0000ff" stroke-width="1.8" stroke-linejoin="miter"/>
<polygon points="816.0,1035.4 823.2,1048.0 828.0,1061.2 834.0,1068.4 838.8,1074.5 842.4,1086.5 847.2,1097.3 850.9,1102.1 856.9,1105.7 861.7,1108.7 877.3,1108.7 877.3,1113.5 891.7,1113.5 891.7,1116.0 900.0,1116.0 900.0,1118.3 905.2,1118.3 905.2,1120.7 935.5,1120.7 935.5,1123.7 944.4,1123.7 944.4,1127.4 949.5,1127.4 949.5,1131.5 960.6,1131.5 960.6,1136.2 1044.6,1136.2 1044.6,1208.7 960.6,1208.7 960.6,1194.6 949.5,1194.6 949.5,1182.0 944.4,1182.0 944.4,1169.5 935.5,1169.5 935.5,1157.0 905.5,1157.0 905.5,1153.8 891.7,1153.8 891.7,1150.2 876.7,1150.2 876.7,1142.9 865.3,1141.7 860.5,1134.5 852.1,1127.3 846.0,1120.1 841.2,1106.9 832.8,1090.1 828.0,1074.5 816.0,1035.4" fill="#ff0000" fill-opacity="0.3"/>
<polygon points="816.0,1035.4 826.8,1060.0 829.2,1075.7 837.6,1092.5 842.4,1102.1 847.2,1111.7 853.3,1116.5 858.1,1124.9 862.9,1129.7 867.7,1133.3 877.3,1136.9 891.7,1136.9 891.7,1141.0 900.0,1141.0 900.0,1147.3 905.2,1147.3 905.2,1152.5 1044.6,1152.5 1044.6,1190.2 907.3,1190.2 907.3,1186.2 900.1,1183.8 894.1,1179.0 886.9,1174.2 877.3,1170.6 870.1,1168.2 864.1,1164.6 860.5,1155.0 853.3,1147.7 849.6,1141.7 844.8,1134.5 840.0,1121.3 834.0,1102.1 826.0,1070.0 816.0,1035.4" fill="#0000ff" fill-opacity="0.3"/>
<path d="M814.8,1037.4h4.6M817.1,1035.1v4.6M816.9,1041.4h4.6M819.2,1039.1v4.6M818.9,1045.4h4.6M821.2,1043.1v4.6M820.6,1049.7h4.6M822.9,1047.4v4.6M822.3,1053.9h4.6M824.6,1051.6v4.6M823.8,1058.1h4.6M826.1,1055.8v4.6M825.1,1062.5h4.6M827.4,1060.2v4.6M826.4,1066.8h4.6M828.7,1064.5v4.6M828.5,1070.8h4.6M830.8,1068.5v4.6M831.0,1074.6h4.6M833.3,1072.3v4.6M833.5,1078.4h4.6M835.8,1076.1v4.6M836.0,1082.1h4.6M838.3,1079.8v4.6M837.8,1086.3h4.6M840.1,1084.0v4.6M839.4,1090.5h4.6M841.7,1088.2v4.6M840.9,1094.8h4.6M843.2,1092.5v4.6M842.3,1099.1h4.6M844.6,1096.8v4.6M843.7,1103.4h4.6M846.0,1101.1v4.6M844.8,1107.8h4.6M847.1,1105.5v4.6M845.9,1112.2h4.6M848.2,1109.9v4.6M848.1,1116.1h4.6M850.4,1113.8v4.6M850.9,1119.6h4.6M853.2,1117.3v4.6M854.8,1121.9h4.6M857.1,1119.6v4.6M858.5,1124.5h4.6M860.8,1122.2v4.6M862.5,1126.1h4.6M864.8,1123.8v4.6M867.0,1126.1h4.6M869.3,1123.8v4.6M871.5,1126.1h4.6M873.8,1123.8v4.6M910.3,1142.1h4.6M912.6,1139.8v4.6M919.1,1142.1h4.6M921.4,1139.8v4.6M920.6,1142.1h4.6M922.9,1139.8v4.6M922.1,1142.1h4.6M924.4,1139.8v4.6M931.7,1142.1h4.6M934.0,1139.8v4.6M936.1,1149.5h4.6M938.4,1147.2v4.6M943.5,1159.1h4.6M945.8,1156.8v4.6M949.5,1170.2h4.6M951.8,1167.9v4.6M968.7,1183.5h4.6M971.0,1181.2v4.6M993.8,1183.5h4.6M996.1,1181.2v4.6M1038.2,1183.5h4.6M1040.5,1181.2v4.6M1042.6,1183.5h4.6M1044.9,1181.2v4.6M863.7,1126.1h4.6M866.0,1123.8v4.6M866.7,1126.1h4.6M869.0,1123.8v4.6M869.7,1126.1h4.6M872.0,1123.8v4.6M882.7,1134.5h4.6M885.0,1132.2v4.6M884.7,1134.5h4.6M887.0,1132.2v4.6M895.7,1137.5h4.6M898.0,1135.2v4.6M898.7,1137.5h4.6M901.0,1135.2v4.6" stroke="#ff0000" stroke-width="1.1" fill="none"/>
<path d="M815.1,1038.0h4.6M817.4,1035.7v4.6M817.8,1043.3h4.6M820.1,1041.0v4.6M820.3,1048.7h4.6M822.6,1046.4v4.6M822.0,1054.4h4.6M824.3,1052.1v4.6M823.8,1060.0h4.6M826.1,1057.7v4.6M825.5,1065.7h4.6M827.8,1063.4v4.6M827.2,1071.4h4.6M829.5,1069.1v4.6M828.7,1077.1h4.6M831.0,1074.8v4.6M830.0,1082.9h4.6M832.3,1080.6v4.6M831.4,1088.7h4.6M833.7,1086.4v4.6M833.0,1094.4h4.6M835.3,1092.1v4.6M834.7,1100.1h4.6M837.0,1097.8v4.6M836.4,1105.8h4.6M838.7,1103.5v4.6M838.1,1111.5h4.6M840.4,1109.2v4.6M840.0,1117.1h4.6M842.3,1114.8v4.6M842.1,1122.7h4.6M844.4,1120.4v4.6M846.0,1127.1h4.6M848.3,1124.8v4.6M850.0,1131.4h4.6M852.3,1129.1v4.6M853.7,1136.0h4.6M856.0,1133.7v4.6M857.9,1140.2h4.6M860.2,1137.9v4.6M860.1,1145.7h4.6M862.4,1143.4v4.6M862.7,1150.9h4.6M865.0,1148.6v4.6M867.7,1154.1h4.6M870.0,1151.8v4.6M873.4,1155.7h4.6M875.7,1153.4v4.6M879.2,1156.9h4.6M881.5,1154.6v4.6M884.2,1159.4h4.6M886.5,1157.1v4.6M889.5,1161.7h4.6M891.8,1159.4v4.6M894.6,1164.3h4.6M896.9,1162.0v4.6M899.4,1167.9h4.6M901.7,1165.6v4.6M903.3,1172.2h4.6M905.6,1169.9v4.6M908.7,1174.7h4.6M911.0,1172.4v4.6M911.7,1174.7h4.6M914.0,1172.4v4.6M917.7,1174.7h4.6M920.0,1172.4v4.6M919.1,1174.7h4.6M921.4,1172.4v4.6M942.8,1174.7h4.6M945.1,1172.4v4.6M948.0,1174.7h4.6M950.3,1172.4v4.6M965.7,1174.7h4.6M968.0,1172.4v4.6M968.7,1174.7h4.6M971.0,1172.4v4.6M986.4,1174.7h4.6M988.7,1172.4v4.6M1041.9,1174.7h4.6M1044.2,1172.4v4.6" stroke="#0000ff" stroke-width="1.1" fill="none"/>
<path d="M803.1,1026.6 V1246.5 H1075.9" fill="none" stroke="#666" stroke-width="1.3"/>
<line x1="800.5" y1="1036.8" x2="803.1" y2="1036.8" stroke="#666" stroke-width="1.1"/>
<text x="797.8" y="1040.1" font-size="9.6" text-anchor="end" fill="#555" font-family="'Liberation Serif', serif" textLength="18.3" lengthAdjust="spacingAndGlyphs" >1.00</text>
<line x1="800.5" y1="1086.9" x2="803.1" y2="1086.9" stroke="#666" stroke-width="1.1"/>
<text x="797.8" y="1090.2" font-size="9.6" text-anchor="end" fill="#555" font-family="'Liberation Serif', serif" textLength="18.3" lengthAdjust="spacingAndGlyphs" >0.75</text>
<line x1="800.5" y1="1137.0" x2="803.1" y2="1137.0" stroke="#666" stroke-width="1.1"/>
<text x="797.8" y="1140.3" font-size="9.6" text-anchor="end" fill="#555" font-family="'Liberation Serif', serif" textLength="18.3" lengthAdjust="spacingAndGlyphs" >0.50</text>
<line x1="800.5" y1="1187.1" x2="803.1" y2="1187.1" stroke="#666" stroke-width="1.1"/>
<text x="797.8" y="1190.4" font-size="9.6" text-anchor="end" fill="#555" font-family="'Liberation Serif', serif" textLength="18.3" lengthAdjust="spacingAndGlyphs" >0.25</text>
<line x1="800.5" y1="1237.2" x2="803.1" y2="1237.2" stroke="#666" stroke-width="1.1"/>
<text x="797.8" y="1240.5" font-size="9.6" text-anchor="end" fill="#555" font-family="'Liberation Serif', serif" textLength="18.3" lengthAdjust="spacingAndGlyphs" >0.00</text>
<line x1="815.4" y1="1246.5" x2="815.4" y2="1249.1" stroke="#666" stroke-width="1.1"/>
<text x="815.4" y="1258.9" font-size="9.6" text-anchor="middle" fill="#555" font-family="'Liberation Serif', serif" >0</text>
<line x1="832.0" y1="1246.5" x2="832.0" y2="1249.1" stroke="#666" stroke-width="1.1"/>
<text x="832.0" y="1258.9" font-size="9.6" text-anchor="middle" fill="#555" font-family="'Liberation Serif', serif" >1</text>
<line x1="848.6" y1="1246.5" x2="848.6" y2="1249.1" stroke="#666" stroke-width="1.1"/>
<text x="848.6" y="1258.9" font-size="9.6" text-anchor="middle" fill="#555" font-family="'Liberation Serif', serif" >2</text>
<line x1="865.2" y1="1246.5" x2="865.2" y2="1249.1" stroke="#666" stroke-width="1.1"/>
<text x="865.2" y="1258.9" font-size="9.6" text-anchor="middle" fill="#555" font-family="'Liberation Serif', serif" >3</text>
<line x1="881.8" y1="1246.5" x2="881.8" y2="1249.1" stroke="#666" stroke-width="1.1"/>
<text x="881.8" y="1258.9" font-size="9.6" text-anchor="middle" fill="#555" font-family="'Liberation Serif', serif" >4</text>
<line x1="898.4" y1="1246.5" x2="898.4" y2="1249.1" stroke="#666" stroke-width="1.1"/>
<text x="898.4" y="1258.9" font-size="9.6" text-anchor="middle" fill="#555" font-family="'Liberation Serif', serif" >5</text>
<line x1="915.0" y1="1246.5" x2="915.0" y2="1249.1" stroke="#666" stroke-width="1.1"/>
<text x="915.0" y="1258.9" font-size="9.6" text-anchor="middle" fill="#555" font-family="'Liberation Serif', serif" >6</text>
<line x1="931.6" y1="1246.5" x2="931.6" y2="1249.1" stroke="#666" stroke-width="1.1"/>
<text x="931.6" y="1258.9" font-size="9.6" text-anchor="middle" fill="#555" font-family="'Liberation Serif', serif" >7</text>
<line x1="948.2" y1="1246.5" x2="948.2" y2="1249.1" stroke="#666" stroke-width="1.1"/>
<text x="948.2" y="1258.9" font-size="9.6" text-anchor="middle" fill="#555" font-family="'Liberation Serif', serif" >8</text>
<line x1="964.8" y1="1246.5" x2="964.8" y2="1249.1" stroke="#666" stroke-width="1.1"/>
<text x="964.8" y="1258.9" font-size="9.6" text-anchor="middle" fill="#555" font-family="'Liberation Serif', serif" >9</text>
<line x1="981.4" y1="1246.5" x2="981.4" y2="1249.1" stroke="#666" stroke-width="1.1"/>
<text x="981.4" y="1258.9" font-size="9.6" text-anchor="middle" fill="#555" font-family="'Liberation Serif', serif" >10</text>
<line x1="998.0" y1="1246.5" x2="998.0" y2="1249.1" stroke="#666" stroke-width="1.1"/>
<text x="998.0" y="1258.9" font-size="9.6" text-anchor="middle" fill="#555" font-family="'Liberation Serif', serif" >11</text>
<line x1="1014.6" y1="1246.5" x2="1014.6" y2="1249.1" stroke="#666" stroke-width="1.1"/>
<text x="1014.6" y="1258.9" font-size="9.6" text-anchor="middle" fill="#555" font-family="'Liberation Serif', serif" >12</text>
<line x1="1031.2" y1="1246.5" x2="1031.2" y2="1249.1" stroke="#666" stroke-width="1.1"/>
<text x="1031.2" y="1258.9" font-size="9.6" text-anchor="middle" fill="#555" font-family="'Liberation Serif', serif" >13</text>
<line x1="1047.8" y1="1246.5" x2="1047.8" y2="1249.1" stroke="#666" stroke-width="1.1"/>
<text x="1047.8" y="1258.9" font-size="9.6" text-anchor="middle" fill="#555" font-family="'Liberation Serif', serif" >14</text>
<line x1="1064.4" y1="1246.5" x2="1064.4" y2="1249.1" stroke="#666" stroke-width="1.1"/>
<text x="1064.4" y="1258.9" font-size="9.6" text-anchor="middle" fill="#555" font-family="'Liberation Serif', serif" >15</text>
<text x="910.5" y="1270.5" font-size="11.2" text-anchor="start" fill="#222" textLength="59.3" lengthAdjust="spacingAndGlyphs" >Time(years)</text>
<text transform="translate(775.6,1136.4) rotate(-90)" font-size="11.1" text-anchor="middle" fill="#222" textLength="75.8" lengthAdjust="spacingAndGlyphs">Overall survival</text>
<text x="820.6" y="1201.3" font-size="13.4" text-anchor="start" fill="#222" textLength="49.2" lengthAdjust="spacingAndGlyphs" >p=0.076</text>
<text x="870.0" y="1008.6" font-size="8.2" text-anchor="start" fill="#333" textLength="68.1" lengthAdjust="spacingAndGlyphs" >hsa−miR−664b−3p</text>
<rect x="943.1" y="999.2" width="12.7" height="12.3" fill="#ff0000" fill-opacity="0.3"/>
<path d="M944.1,1005.3H954.8M949.5,1002.3V1008.3" stroke="#ff0000" stroke-width="1.2"/>
<rect x="980.1" y="999.2" width="12.7" height="12.3" fill="#0000ff" fill-opacity="0.3"/>
<path d="M981.1,1005.3H991.8M986.5,1002.3V1008.3" stroke="#0000ff" stroke-width="1.2"/>
<text x="960.6" y="1008.6" font-size="8.2" text-anchor="start" fill="#333" textLength="14.7" lengthAdjust="spacingAndGlyphs" >high</text>
<text x="997.5" y="1008.6" font-size="8.2" text-anchor="start" fill="#333" textLength="11.9" lengthAdjust="spacingAndGlyphs" >low</text>
<rect x="194.3" y="1409.8" width="33.3" height="185.7" fill="#000"/>
<rect x="248.35" y="1474.65" width="30.90" height="120.85" fill="#d3d3d3" stroke="#000" stroke-width="3.3"/>
<rect x="300.75" y="1390.85" width="30.90" height="204.65" fill="#bdbdbd" stroke="#000" stroke-width="3.3"/>
<path d="M211,1409.8 V1399.4 M202.1,1399.4 H219.9" stroke="#222" stroke-width="1.4" fill="none"/>
<path d="M263.6,1473 V1470.4 M254.8,1470.4 H272.40000000000003" stroke="#222" stroke-width="1.4" fill="none"/>
<path d="M316,1389.4 V1381.4 M307.4,1381.4 H324.6" stroke="#222" stroke-width="1.4" fill="none"/>
<path d="M175.9,1331.9 V1595.5 M165.5,1595.5 H351.8" stroke="#000" stroke-width="2.6" fill="none"/>
<line x1="165.4" y1="1333.3" x2="175.9" y2="1333.3" stroke="#000" stroke-width="2.6"/>
<text x="161.3" y="1340.9" font-size="20" text-anchor="end" fill="#111" font-weight="bold" >1.5</text>
<line x1="165.4" y1="1420.7" x2="175.9" y2="1420.7" stroke="#000" stroke-width="2.6"/>
<text x="161.3" y="1428.3" font-size="20" text-anchor="end" fill="#111" font-weight="bold" >1.0</text>
<line x1="165.4" y1="1508.1" x2="175.9" y2="1508.1" stroke="#000" stroke-width="2.6"/>
<text x="161.3" y="1515.7" font-size="20" text-anchor="end" fill="#111" font-weight="bold" >0.5</text>
<line x1="165.4" y1="1595.5" x2="175.9" y2="1595.5" stroke="#000" stroke-width="2.6"/>
<text x="161.3" y="1603.1" font-size="20" text-anchor="end" fill="#111" font-weight="bold" >0.0</text>
<line x1="211" y1="1595.5" x2="211" y2="1606.5" stroke="#000" stroke-width="2.6"/>
<line x1="263.6" y1="1595.5" x2="263.6" y2="1606.5" stroke="#000" stroke-width="2.6"/>
<line x1="316.2" y1="1595.5" x2="316.2" y2="1606.5" stroke="#000" stroke-width="2.6"/>
<text transform="translate(216.5,1625.0) rotate(-45)" font-size="19.6" font-weight="bold" text-anchor="end" fill="#111">SV-HUC-1</text>
<text transform="translate(269.1,1625.0) rotate(-45)" font-size="19.6" font-weight="bold" text-anchor="end" fill="#111">5637</text>
<text transform="translate(321.7,1625.0) rotate(-45)" font-size="19.6" font-weight="bold" text-anchor="end" fill="#111">T24</text>
<line x1="212.7" y1="1390.5" x2="262" y2="1390.5" stroke="#000" stroke-width="2.6"/>
<text x="237.6" y="1392.0" font-size="20" text-anchor="middle" fill="#222" >*</text>
<line x1="212.7" y1="1357" x2="313.4" y2="1357" stroke="#000" stroke-width="2.6"/>
<text x="262.0" y="1356.5" font-size="20" text-anchor="middle" fill="#222" >*</text>
<text x="263.7" y="1720.2" font-size="21.6" text-anchor="middle" fill="#111" font-weight="bold" textLength="174.1" lengthAdjust="spacingAndGlyphs" >hsa-miR-664b-3p</text>
<text transform="translate(94.7,1463.7) rotate(-90)" font-size="21.6" font-weight="bold" text-anchor="middle" fill="#111" textLength="202.5" lengthAdjust="spacingAndGlyphs">Relative expression</text>
<rect x="546.4" y="1577.8" width="34.2" height="17.6" fill="#000"/>
<rect x="600.35" y="1452.55" width="31.70" height="142.85" fill="#d3d3d3" stroke="#000" stroke-width="3.3"/>
<rect x="652.95" y="1448.65" width="31.70" height="146.75" fill="#bdbdbd" stroke="#000" stroke-width="3.3"/>
<path d="M563.5,1578 V1577 M555.5,1577 H571.5" stroke="#222" stroke-width="1.4" fill="none"/>
<path d="M616.5,1451.4 V1434.7 M608.2,1434.7 H624.8" stroke="#222" stroke-width="1.4" fill="none"/>
<path d="M668,1447.4 V1429.1 M659.7,1429.1 H676.3" stroke="#222" stroke-width="1.4" fill="none"/>
<path d="M528.0,1332.3 V1595.4 M518,1595.4 H704.4" stroke="#000" stroke-width="2.6" fill="none"/>
<line x1="517.5" y1="1332.6" x2="528.0" y2="1332.6" stroke="#000" stroke-width="2.6"/>
<text x="513.4" y="1340.2" font-size="20" text-anchor="end" fill="#111" font-weight="bold" >15</text>
<line x1="517.5" y1="1420.2" x2="528.0" y2="1420.2" stroke="#000" stroke-width="2.6"/>
<text x="513.4" y="1427.8" font-size="20" text-anchor="end" fill="#111" font-weight="bold" >10</text>
<line x1="517.5" y1="1507.8" x2="528.0" y2="1507.8" stroke="#000" stroke-width="2.6"/>
<text x="513.4" y="1515.4" font-size="20" text-anchor="end" fill="#111" font-weight="bold" >5</text>
<line x1="517.5" y1="1595.4" x2="528.0" y2="1595.4" stroke="#000" stroke-width="2.6"/>
<text x="513.4" y="1603.0" font-size="20" text-anchor="end" fill="#111" font-weight="bold" >0</text>
<line x1="563" y1="1595.4" x2="563" y2="1606.4" stroke="#000" stroke-width="2.6"/>
<line x1="616.2" y1="1595.4" x2="616.2" y2="1606.4" stroke="#000" stroke-width="2.6"/>
<line x1="668.8" y1="1595.4" x2="668.8" y2="1606.4" stroke="#000" stroke-width="2.6"/>
<text transform="translate(568.5,1624.9) rotate(-45)" font-size="19.6" font-weight="bold" text-anchor="end" fill="#111">SV-HUC-1</text>
<text transform="translate(621.7,1624.9) rotate(-45)" font-size="19.6" font-weight="bold" text-anchor="end" fill="#111">5637</text>
<text transform="translate(674.3,1624.9) rotate(-45)" font-size="19.6" font-weight="bold" text-anchor="end" fill="#111">T24</text>
<line x1="565.3" y1="1420.8" x2="614.6" y2="1420.8" stroke="#000" stroke-width="2.6"/>
<text x="590.3" y="1422.8" font-size="20" text-anchor="middle" fill="#222" >***</text>
<line x1="565.3" y1="1390.8" x2="666.1" y2="1390.8" stroke="#000" stroke-width="2.6"/>
<text x="614.6" y="1390.3" font-size="20" text-anchor="middle" fill="#222" >***</text>
<text x="615.4" y="1720.9" font-size="21.6" text-anchor="middle" fill="#111" font-weight="bold" textLength="94.8" lengthAdjust="spacingAndGlyphs" >MSC-AS1</text>
<text transform="translate(454.5,1464.7) rotate(-90)" font-size="21.6" font-weight="bold" text-anchor="middle" fill="#111" textLength="202.5" lengthAdjust="spacingAndGlyphs">Relative expression</text>
<rect x="897.3" y="1579.5" width="34.3" height="45.9" fill="#000"/>
<rect x="951.05" y="1467.85" width="31.60" height="157.55" fill="#d3d3d3" stroke="#000" stroke-width="3.3"/>
<rect x="1003.75" y="1403.95" width="31.70" height="221.45" fill="#bdbdbd" stroke="#000" stroke-width="3.3"/>
<path d="M914.5,1579.5 V1575.5 M906.2,1575.5 H922.8" stroke="#222" stroke-width="1.4" fill="none"/>
<path d="M966.9,1466.2 V1458.3 M958.1,1458.3 H975.6999999999999" stroke="#222" stroke-width="1.4" fill="none"/>
<path d="M1019.4,1402.3 V1401.5 M1011.3,1401.5 H1027.5" stroke="#222" stroke-width="1.4" fill="none"/>
<path d="M879.0,1362.2 V1625.4 M868.4,1625.4 H1054.7" stroke="#000" stroke-width="2.6" fill="none"/>
<line x1="868.5" y1="1362.5" x2="879.0" y2="1362.5" stroke="#000" stroke-width="2.6"/>
<text x="864.4" y="1370.1" font-size="20" text-anchor="end" fill="#111" font-weight="bold" >6</text>
<line x1="868.5" y1="1450.1" x2="879.0" y2="1450.1" stroke="#000" stroke-width="2.6"/>
<text x="864.4" y="1457.7" font-size="20" text-anchor="end" fill="#111" font-weight="bold" >4</text>
<line x1="868.5" y1="1537.8" x2="879.0" y2="1537.8" stroke="#000" stroke-width="2.6"/>
<text x="864.4" y="1545.4" font-size="20" text-anchor="end" fill="#111" font-weight="bold" >2</text>
<line x1="868.5" y1="1625.4" x2="879.0" y2="1625.4" stroke="#000" stroke-width="2.6"/>
<text x="864.4" y="1633.0" font-size="20" text-anchor="end" fill="#111" font-weight="bold" >0</text>
<line x1="914.3" y1="1625.4" x2="914.3" y2="1636.4" stroke="#000" stroke-width="2.6"/>
<line x1="966.5" y1="1625.4" x2="966.5" y2="1636.4" stroke="#000" stroke-width="2.6"/>
<line x1="1019.1" y1="1625.4" x2="1019.1" y2="1636.4" stroke="#000" stroke-width="2.6"/>
<text transform="translate(919.8,1654.9) rotate(-45)" font-size="19.6" font-weight="bold" text-anchor="end" fill="#111">SV-HUC-1</text>
<text transform="translate(972.0,1654.9) rotate(-45)" font-size="19.6" font-weight="bold" text-anchor="end" fill="#111">5637</text>
<text transform="translate(1024.6,1654.9) rotate(-45)" font-size="19.6" font-weight="bold" text-anchor="end" fill="#111">T24</text>
<line x1="916.6" y1="1449.7" x2="964.2" y2="1449.7" stroke="#000" stroke-width="2.6"/>
<text x="941.6" y="1451.2" font-size="20" text-anchor="middle" fill="#222" >**</text>
<line x1="916.6" y1="1388.2" x2="1016.4" y2="1388.2" stroke="#000" stroke-width="2.6"/>
<text x="965.9" y="1388.0" font-size="20" text-anchor="middle" fill="#222" >***</text>
<text x="966.5" y="1750.8" font-size="21.6" text-anchor="middle" fill="#111" font-weight="bold" textLength="39.9" lengthAdjust="spacingAndGlyphs" >TTK</text>
<text transform="translate(814.5,1494.6) rotate(-90)" font-size="21.6" font-weight="bold" text-anchor="middle" fill="#111" textLength="202.5" lengthAdjust="spacingAndGlyphs">Relative expression</text>
</svg>
</body></html>
